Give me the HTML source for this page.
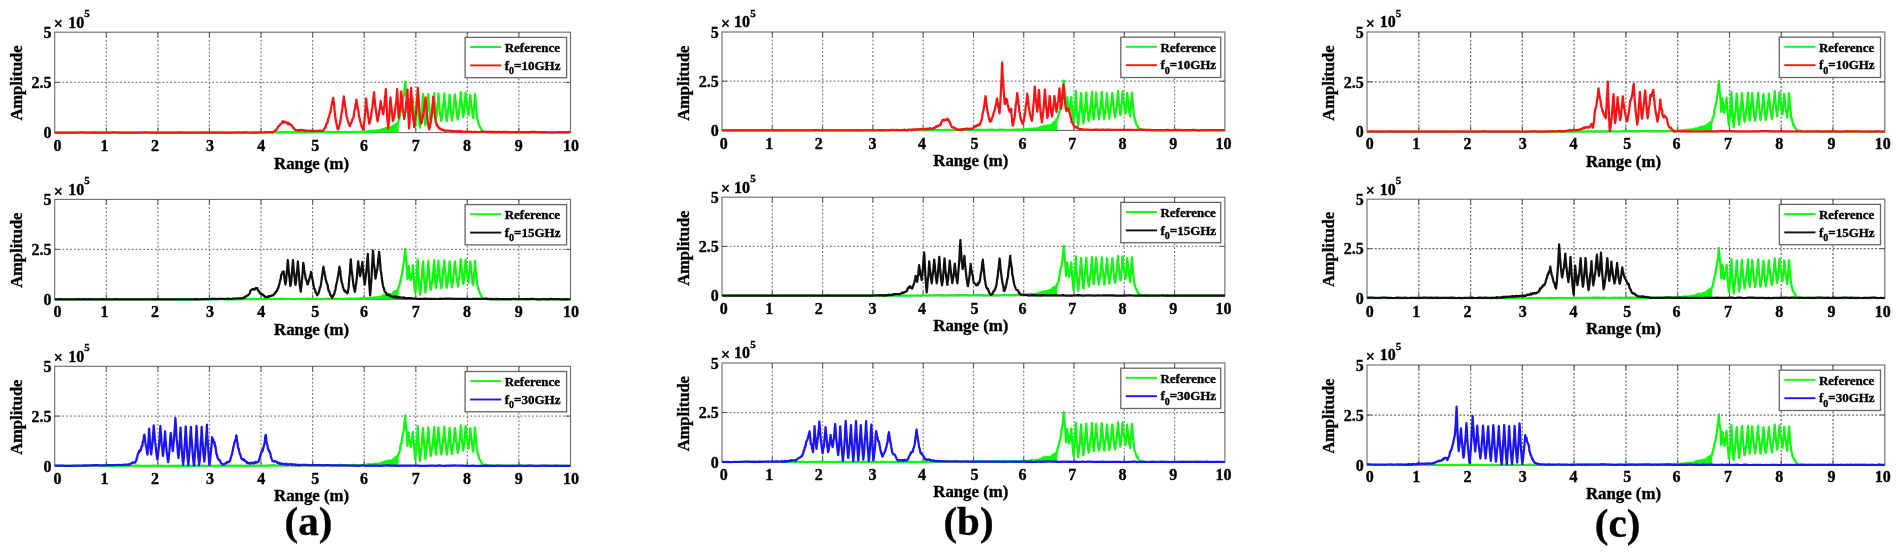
<!DOCTYPE html>
<html lang="en"><head><meta charset="utf-8"><title>Range profiles</title>
<style>
html,body{margin:0;padding:0;background:#fff;}
body{width:1900px;height:556px;overflow:hidden;}
svg{display:block;filter:blur(0.7px);}
text{stroke:#000;stroke-width:0.35px;}
</style></head><body>
<svg width="1900" height="556" viewBox="0 0 1900 556" font-family="'Liberation Serif', serif" font-weight="bold" fill="#000">
<rect width="1900" height="556" fill="#fff"/>
<g><clipPath id="c1"><rect x="53.7" y="32.2" width="517.8" height="101.9"/></clipPath>
<path d="M106.3,32.2 V132.6 M157.9,32.2 V132.6 M209.4,32.2 V132.6 M261.0,32.2 V132.6 M312.6,32.2 V132.6 M364.2,32.2 V132.6 M415.8,32.2 V132.6 M467.3,32.2 V132.6 M518.9,32.2 V132.6 M54.7,82.4 H570.5" stroke="#808080" stroke-width="1.25" stroke-dasharray="1.8 2.05" fill="none"/>
<rect x="54.7" y="32.2" width="515.8" height="100.4" fill="none" stroke="#707070" stroke-width="1.15"/>
<path d="M106.3,32.2v5M106.3,132.6v-5M157.9,32.2v5M157.9,132.6v-5M209.4,32.2v5M209.4,132.6v-5M261.0,32.2v5M261.0,132.6v-5M312.6,32.2v5M312.6,132.6v-5M364.2,32.2v5M364.2,132.6v-5M415.8,32.2v5M415.8,132.6v-5M467.3,32.2v5M467.3,132.6v-5M518.9,32.2v5M518.9,132.6v-5M54.7,82.4h5M570.5,82.4h-5" stroke="#555" stroke-width="1" fill="none"/>
<g clip-path="url(#c1)" fill="none" stroke-width="2.25" stroke-linejoin="round">
<path d="M276.5,132.6 L276.5,132.0 L312.6,131.8 L346.6,131.5 L364.2,131.0 L376.0,130.2 L384.8,129.0 L390.0,127.8 L395.1,125.8 L397.7,122.6 L398.5,122.6 L398.7,132.6 Z" fill="#10f810" stroke="none"/>
<path d="M54.7,132.6l2.6,0l2.6,0l2.5,0l2.6-0.1l2.6,0.1l2.6,0l2.6,0l2.5,0l2.6,0l2.6,0l2.6-0.3l2.5,0.3l2.6,0l2.6-0.1l2.6,0.1l2.6,0l2.5-0.1l2.6,0.1l2.6,0l2.6,0l2.6,0l2.5-0.2l2.6,0l2.6-0.1l2.6,0.3l2.6,0l2.5,0l2.6-0.1l2.6,0.1l2.6-0.1l2.5,0.1l2.6,0l2.6-0.2l2.6,0.2l2.6-0.2l2.5,0.2l2.6-0.1l2.6,0.1l2.6,0l2.6-0.1l2.5,0l2.6,0.1l2.6-0.1l2.6,0.1l2.6-0.1l2.5,0.1l2.6,0l2.6-0.1l2.6,0.1l2.5,0l2.6,0l2.6,0l2.6,0l2.6-0.1l2.5,0.1l2.6-0.2l2.6-0.1l2.6,0.1l2.6,0.2l2.5,0l2.6-0.1l2.6,0l2.6-0.2l2.6,0.2l2.5-0.1l2.6,0.2l2.6-0.1l2.6,0.1l2.6,0l2.5-0.1l2.6,0.1l2.6,0l2.6-0.2l2.5-0.1l2.6,0.2l2.6,0.1l2.6-0.2l2.6,0l2.5,0l2.6,0.1l2.6-0.1l2.6-0.2l2.6,0.2l2.5-0.2l2.6-0.1l2.6,0l2.5,0.2l2.5-0.1l2.5,0l2.5,0.1l2.5-0.1l2.5,0.1l2.5-0.2l2.5,0.2l2.5-0.1l2.5,0l2.6-0.1l2.5,0.3l2.5-0.4l2.5,0.1l2.5,0l2.5-0.2l2.5,0.2l2.5-0.1l2.5,0l2.5-0.1l2.5,0l2.5,0l2.5,0.1l2.5,0.1l2.5-0.1l2.5,0.1l2.5-0.1l2.5,0l2.5,0.2l2.6-0.2l2.5,0l2.5,0l2.5,0l2.5-0.2l2.5-0.1l0.4,0.4l0.5-0.1l0.4,0l0.5,0l0.5-0.4l0.4,0.3l0.5-0.5l0.4,0.8l0.5-0.2l0.4-0.7l0.5,0.2l0.5,0.4l0.4-1.1l0.5,0.3l0.4,0l0.5,0.7l0.4-1l0.5,0.2l0.4,0l0.5,0l0.5,0.4l0.4-0.2l0.5-0.5l0.4-0.1l0.5,0l0.4,0.2l0.5,0l0.5-0.2l0.4-0.5l0.5,0.6l0.5,0.3l0.4-0.6l0.5,0.1l0.5,0.1l0.4,0l0.5-0.8l0.4,0.3l0.5-0.3l0.5,0.1l0.4-0.8l0.5,0.3l0.5-0.1l0.4,0.2l0.5-0.2l0.5-1l0.4,0.6l0.5-0.8l0.5,0l0.4,0l0.5-0.1l0.4,0l0.5-0.5l0.5,0.3l0.4,0.6l0.5-0.5l0.5-0.3l0.4,0.6l0.5-0.6l0.4-0.1l0.5-0.7l0.4,0.5l0.5-1.3l0.5,0.7l0.4-0.9l0.5,0.2l0.4-1l0.5,0l0.4,0.2l0.5-1.3l0.4,0.5l0.5-1.1l0.5,1.7l0.4-1.6l0.4-0.8l0.4-2.5l0.5-0.8l0.4-1.1l0.4-1.6l0.4-1.8l0.4-3.3l0.5-1.6l0.4-0.3l0.5-3.4l0.5-3.2l0.4-2.3l0.5-2.9l0.4-2.8l0.3,0l0.4-5.8l0.4-4.9l0.3-2.6l0.4,5.7l0.4,5.4l0.4,3.6l0.4,2.4l0.3,8.5l0.4,5.1l0.4-3.4l0.5-5.2l0.4-4.6l0.4,6.2l0.5,2.3l0.5,2.9l0.4,3.2l0.5-2.3l0.4-3.1l0.5-2.6l0.5-3.2l0.4-3.9l0.5,7.8l0.5,6.5l0.4,3.9l0.5,5.5l0.4,4.1l0.4-3l0.5-4.7l0.4-6.6l0.4-5.7l0.4-7.6l0.4-6.2l0.4,9.5l0.5,6.5l0.4,8.5l0.4,5.8l0.5,4.6l0.4-3.7l0.5-2.6l0.4-3.4l0.5-5.3l0.4-3l0.4-9.5l0.5-5.9l0.4,6.5l0.4,7.2l0.4,5.7l0.4,4.1l0.4,3.8l0.4,3.8l0.4-3.7l0.4-4.2l0.4-3l0.4-5.4l0.5-1.2l0.4-6.8l0.4-7.2l0.4,7.2l0.4,5l0.4,4.6l0.4,4.1l0.4,4.6l0.4,3.6l0.5-2.1l0.4-3.2l0.4-3.7l0.5-2l0.4-4.8l0.4-4.2l0.5-4.3l0.4-5.3l0.4,9.4l0.5,7.1l0.4,5.7l0.4,5.6l0.4-3.9l0.4-3.1l0.4-3.2l0.4-6.3l0.4-2.8l0.5-8.1l0.4,3.5l0.4,7.5l0.4,4l0.4,5.4l0.5,1.6l0.4,3.1l0.4,2.3l0.4-2.9l0.4-2.7l0.5-4.9l0.4-3.7l0.4-3.1l0.5-6l0.4-4.4l0.4,7.6l0.4,4.9l0.4,1.9l0.4,7.1l0.4,3.7l0.4,2.6l0.4-2.6l0.4-3.7l0.4-4l0.5-2.4l0.4-3.9l0.4-4.3l0.4-5.7l0.5,7.4l0.4,5.5l0.5,4.5l0.4,4l0.5,4.5l0.4-2.2l0.5-3.8l0.4-1.6l0.4-6.3l0.5-3.4l0.4-5.6l0.5-3.2l0.4,6l0.4,1.3l0.4,6l0.4,4.4l0.5,4.2l0.4,2.6l0.4,0.6l0.4-3l0.4-2.2l0.5-5.7l0.4-2.2l0.4-5.1l0.4-3l0.4-6.2l0.4,6.5l0.4,3.1l0.4,4.9l0.4,4l0.4,3.3l0.4,3.2l0.4-3.2l0.4-0.3l0.4-7.3l0.4-4.4l0.4-5.1l0.4-4.2l0.4,5.1l0.4,4.4l0.4,1.4l0.5,5l0.4,1.2l0.4,3.2l0.4,2.5l0.5-4.1l0.4-6.1l0.4-4.5l0.5-6.1l0.4,4.3l0.4,4.5l0.5,3.3l0.4,3.8l0.4,2.3l0.4,3.8l0.5,1.7l0.4-5.5l0.4-5.3l0.5-6.2l0.4-7.5l0.4,4.2l0.4,4.8l0.4,4.7l0.4,6.2l0.4,2.9l0.4,1.8l0.5,2l0.4,2.5l0.5,1.9l0.5,0.6l0.4,1.3l0.5,0.6l0.4,0.5l0.4,1l0.5,0.6l0.4,0.8l0.5,1.1l0.4,0.2l2.1,0l2,0.5l2.1,0.3l2.1,0.2l2.5,0l2.6-0.3l2.6,0.1l2.5,0l2.6-0.1l2.5,0.2l2.6,0.2l2.6-0.2l2.5-0.1l2.6,0.3l2.6,0l2.5-0.3l2.6,0.1l2.5,0l2.6,0.2l2.6-0.2l2.5,0.1l2.6-0.1l2.6,0.2l2.5,0l2.6,0l2.5,0l2.6,0l2.6,0l2.5,0l2.6,0l2.6-0.1l2.5,0.1l2.6,0l2.5,0l2.6-0.1" stroke="#10f810"/>
<path d="M54.7,132.5l2.6,0l2.6,0.1l2.5,0l2.6,0l2.6,0l2.6,0l2.6,0l2.5-0.1l2.6,0l2.6-0.2l2.6,0.2l2.5,0l2.6,0.1l2.6,0l2.6-0.2l2.6,0.2l2.5-0.1l2.6,0.1l2.6-0.1l2.6,0.1l2.6,0l2.5-0.1l2.6-0.2l2.6,0.3l2.6,0l2.6,0l2.5,0l2.6,0l2.6,0l2.6-0.1l2.5,0.1l2.6,0l2.6,0l2.6-0.1l2.6-0.1l2.5,0.1l2.6,0.1l2.6,0l2.6-0.1l2.6,0l2.5,0.1l2.6,0l2.6,0l2.6,0l2.6,0l2.5,0l2.6,0l2.6,0l2.6-0.2l2.5,0.2l2.6,0l2.6-0.1l2.6,0.1l2.6,0l2.5,0l2.6-0.1l2.6,0.1l2.6,0l2.6,0l2.5-0.2l2.6,0.2l2.6,0l2.6,0l2.6,0l2.5,0l2.6,0l2.6,0l2.6,0l2.6,0l2.5-0.1l2.6-0.1l2.6,0.2l2.6,0l2.5-0.2l2.6,0.1l2.6,0.1l2.4-0.1l2.3,0.1l2.4,0l2.3-0.2l2.4,0.1l2.3-0.2l2.4-0.1l2.3,0l2.4-0.1l0.4,0.4l0.5-0.4l0.4-0.3l0.5-0.3l0.5-0.3l0.4-0.1l0.5-0.4l0.4-0.1l0.5-0.7l0.5-0.4l0.4-0.3l0.5-0.9l0.4-1.1l0.5-0.8l0.5-0.1l0.4-0.4l0.5-0.7l0.4-0.8l0.5-0.4l0.5-0.4l0.4-0.1l0.5-0.4l0.4-1.7l0.5,0.4l0.5,0.8l0.4-1.1l0.5,0.8l0.4-0.6l0.5,0.5l0.5-0.3l0.4,0.7l0.5,0.1l0.4-0.1l0.5,0.2l0.5,1.5l0.4-1.4l0.5,0.9l0.4,0.6l0.5-0.3l0.4-0.2l0.5,0.7l0.4,0.7l0.5-0.1l0.4,1l0.5,0.7l0.4,0.3l0.5,1.2l0.4-0.4l0.5,0.8l0.4,0.8l0.5,0.3l0.4,0.2l0.5,0l0.5,0l0.4,0.3l0.5,0.1l0.4-0.6l0.5,0.7l0.4-0.1l0.5-0.5l0.5,0.7l0.4-0.5l0.5-0.1l0.4-0.4l0.5,0.3l0.5,0.4l0.4,0.3l0.5-0.6l0.4,0.1l0.5-0.1l0.4,0.1l0.5,0.4l0.5,0.1l0.4,0.3l0.5-0.4l0.4,0l0.5,0.3l0.5-0.1l0.4-0.2l0.5-0.1l0.4,0.6l0.5-0.1l0.4,0.2l0.5,0l0.5-0.4l0.4-0.1l0.5,0.4l0.4-0.1l0.5,0.1l0.4-0.5l0.5,0.5l0.4,0l0.5,0.1l0.4-0.4l0.5,0.3l0.4,0.3l0.5-0.5l0.4,0l0.5,0.1l0.4-0.1l0.5-0.1l0.4,0l0.5-0.2l0.4,0.1l0.5-0.1l0.4,0.1l0.5,0l0.4,0.1l0.5,0l0.4,0.3l0.5-0.6l0.4,0l0.5-0.2l0.4-0.3l0.5-1.1l0.4-0.5l0.5-1.3l0.4,0.1l0.5-2.4l0.4-1.1l0.5-0.7l0.4,0.2l0.4-2.4l0.5-2.6l0.4-0.6l0.5-0.8l0.4-2.6l0.5-1.6l0.4-0.7l0.5-3l0.4-3l0.5-2.1l0.4-2.3l0.5-1.6l0.4-2l0.5,4.9l0.5,2.7l0.4,5.4l0.5,3.6l0.5,4.8l0.4,1.5l0.5,3.2l0.4,1.6l0.5,2.7l0.5,1.3l0.4-0.9l0.5-1.1l0.4-1.6l0.5-2l0.5-1.9l0.4-2.6l0.5-3.8l0.4-1.9l0.5-3.1l0.4-2.3l0.5-6l0.4-1.5l0.5-4.6l0.5,3.4l0.4,3.2l0.5,4.5l0.4,0.9l0.5,5.5l0.4,2.4l0.5,1.1l0.5,2.2l0.4,1.7l0.5,1.1l0.4,1.8l0.5,0.4l0.4,1.7l0.5-1.1l0.4-1.6l0.5-0.1l0.4-1.4l0.5-1.7l0.4-0.7l0.5-1.3l0.4,0l0.5-3.3l0.4-3.6l0.5-1.3l0.4-1.6l0.4-3.7l0.5-2.5l0.4-2.7l0.5,3.4l0.4,2.4l0.5,4l0.4,0.4l0.5,3.7l0.4,3.2l0.5,1.5l0.4,2.4l0.5,1.7l0.4,2l0.5,1.4l0.4,1.3l0.5,1l0.4,0.7l0.4,1l0.5-2.7l0.4-3.8l0.5-3.1l0.4-5.1l0.5-5.2l0.4-5.4l0.4-5.9l0.5,7.4l0.4,1.8l0.5,3.8l0.4,4.5l0.5,2l0.4,3.4l0.4,2.3l0.5-1.1l0.4-1.8l0.4-1.5l0.4-2.2l0.4-3.6l0.5-3.6l0.4-1.3l0.4-3.4l0.4-5.9l0.5-2.3l0.4-4.9l0.4,5.5l0.5,4.3l0.4,4.2l0.5,3.6l0.4,2.7l0.5,3.5l0.4,2.6l0.5,2.9l0.4-2.4l0.5-3.7l0.4-0.2l0.5-4.7l0.4-1.2l0.4-3.8l0.5-4.4l0.4,4.4l0.4,1.2l0.5,3l0.4,0.2l0.4,3.9l0.5,0.7l0.4-5l0.4-1.6l0.5-4.2l0.4-6.4l0.4-2.3l0.4-5.7l0.5,10.2l0.5,8.7l0.4,8l0.5,6.4l0.5,6l0.4-5.1l0.5-4.8l0.5-6.1l0.4-8.8l0.5-6.2l0.4,5.5l0.4,2.7l0.5,5.2l0.4,3.7l0.4,4l0.5,2.4l0.4-2.1l0.5-1.3l0.4-2.4l0.5-3.3l0.5-4.2l0.4-3.5l0.5-2.5l0.4-6.5l0.5-6.2l0.4,8.6l0.4,8.2l0.4,8.2l0.3,3.8l0.5-3.5l0.4-1.9l0.4-5.2l0.5-4.1l0.4-6l0.4-5.7l0.4,6.1l0.4,3.4l0.4,5l0.4,4.5l0.4,2.5l0.4,2.6l0.5,3.5l0.4-1.6l0.4-4l0.4-1.7l0.4-4.5l0.4-4.8l0.5-2.9l0.4-4.9l0.4-4.9l0.4,11.9l0.4,11.8l0.4,8.8l0.4,6.2l0.4-4.5l0.4-9.4l0.4-8.5l0.4-7.8l0.4-10.3l0.5,8.1l0.4,6.2l0.4,6.8l0.5,4.3l0.4,6.4l0.5,3.5l0.4,4l0.5-2.2l0.4-4.8l0.5-4l0.4-4.1l0.5-4.9l0.4-6.1l0.5-6.1l0.4-7.1l0.5,6.5l0.4,6.2l0.4,6.1l0.5,5.4l0.4,4.7l0.5,3.8l0.4,3l0.4-0.2l0.5-1.4l0.4-2.5l0.4-1.1l0.4-3.5l0.5-1.5l0.4-2.7l0.4-4l0.4-3.2l0.4-2.4l0.5-3.8l0.4,4.6l0.5,7.3l0.4,4.9l0.5,3.4l0.4,4.4l0.5,2.9l0.4,2.2l0.5,2.4l0.4-1.6l0.5-2.5l0.4-2.2l0.5-4.4l0.5-3.1l0.4-3.1l0.5-5.3l0.4-5.2l0.5-5.4l0.4,4.3l0.5,5.9l0.4,6.6l0.4,2.7l0.4,2.7l0.5,3.9l0.4,0.6l0.5,2.2l0.4-0.7l0.5,1.9l0.4,0l0.5,1.1l0.4-0.4l0.5,1.2l0.4-0.2l0.5,0.9l0.4-0.5l0.5,0.6l0.4,0.5l0.4-0.4l0.5,0.3l0.4-0.2l0.5,0.4l0.4,0.5l0.5-0.1l0.4,0.1l0.4,0.5l0.5-0.3l0.4,0.1l0.5-0.2l0.5,0l0.4,0l0.5,0.1l0.4,0l0.5,0l0.5-0.1l0.4,0.4l0.5,0l0.4-0.3l0.5,0.2l0.5-0.1l0.4,0.3l0.5,0.2l0.5-0.1l0.4,0.1l0.5-0.1l0.4-0.1l0.5,0.4l0.5,0l0.4-0.2l0.5,0l0.4-0.2l0.5,0.3l0.5,0.3l0.4-0.6l0.5,0.4l0.4-0.2l0.5,0.2l0.5,0.2l0.4-0.9l0.5,1l0.4-0.3l0.5,0.1l0.5,0.1l0.4-0.2l0.5,0.1l0.5,0.1l0.4,0l0.5,0.1l0.4,0.2l0.5,0.1l0.5-0.4l0.4,0.2l0.5-0.3l0.4,0.3l2.6-0.3l2.6,0.4l2.6-0.2l2.6,0.2l2.5-0.1l2.6-0.3l2.6,0.2l2.6,0l2.6,0.1l2.5,0l2.6,0.2l2.6-0.2l2.6,0.1l2.5-0.2l2.6,0.1l2.6,0.1l2.6,0l2.6,0l2.5,0.1l2.6-0.3l2.6,0.3l2.6-0.1l2.6,0.2l2.5-0.1l2.6-0.2l2.6-0.1l2.6,0.2l2.6,0.1l2.5-0.1l2.6,0.1l2.6,0.1l2.6,0.1l2.5,0.1l2.6-0.1l2.6-0.1l2.6,0l2.6,0.2l2.5-0.2l2.6,0l2.6-0.2" stroke="#f81414"/>
</g>
<text x="57.5" y="150.8" font-size="16" text-anchor="middle" >0</text>
<text x="104.4" y="150.8" font-size="16" text-anchor="middle" >1</text>
<text x="155.0" y="150.8" font-size="16" text-anchor="middle" >2</text>
<text x="210.1" y="150.8" font-size="16" text-anchor="middle" >3</text>
<text x="261.2" y="150.8" font-size="16" text-anchor="middle" >4</text>
<text x="315.3" y="150.8" font-size="16" text-anchor="middle" >5</text>
<text x="364.0" y="150.8" font-size="16" text-anchor="middle" >6</text>
<text x="415.8" y="150.8" font-size="16" text-anchor="middle" >7</text>
<text x="467.1" y="150.8" font-size="16" text-anchor="middle" >8</text>
<text x="518.7" y="150.8" font-size="16" text-anchor="middle" >9</text>
<text x="571.0" y="150.8" font-size="16" text-anchor="middle" >10</text>
<text x="51.4" y="37.9" font-size="16" text-anchor="end" >5</text>
<text x="51.4" y="88.1" font-size="16" text-anchor="end" >2.5</text>
<text x="51.4" y="138.3" font-size="16" text-anchor="end" >0</text>
<text x="53.8" y="29.3" font-size="16">× <tspan x="68.2" y="27.6">10</tspan><tspan x="84.2" y="17.1" font-size="11">5</tspan></text>
<text transform="translate(21.7,83.0) rotate(-90)" font-size="16.5" text-anchor="middle">Amplitude</text>
<text x="311.6" y="168.5" font-size="16.8" text-anchor="middle" >Range (m)</text>
<rect x="465.1" y="37.4" width="101.5" height="40.3" fill="#fff" stroke="#666" stroke-width="1.3"/>
<path d="M470.1,47.0 H501.3" stroke="#10f810" stroke-width="1.9"/>
<path d="M470.1,65.4 H501.3" stroke="#f81414" stroke-width="1.9"/>
<text x="504.7" y="51.7" font-size="13" text-anchor="start" >Reference</text>
<text x="504.7" y="69.5" font-size="13">f<tspan font-size="10" dy="4.5">0</tspan><tspan dy="-4.5">=10GHz</tspan></text></g>
<g><clipPath id="c2"><rect x="53.7" y="199.4" width="517.8" height="101.5"/></clipPath>
<path d="M106.3,199.4 V299.4 M157.9,199.4 V299.4 M209.4,199.4 V299.4 M261.0,199.4 V299.4 M312.6,199.4 V299.4 M364.2,199.4 V299.4 M415.8,199.4 V299.4 M467.3,199.4 V299.4 M518.9,199.4 V299.4 M54.7,249.4 H570.5" stroke="#808080" stroke-width="1.25" stroke-dasharray="1.8 2.05" fill="none"/>
<rect x="54.7" y="199.4" width="515.8" height="100.0" fill="none" stroke="#707070" stroke-width="1.15"/>
<path d="M106.3,199.4v5M106.3,299.4v-5M157.9,199.4v5M157.9,299.4v-5M209.4,199.4v5M209.4,299.4v-5M261.0,199.4v5M261.0,299.4v-5M312.6,199.4v5M312.6,299.4v-5M364.2,199.4v5M364.2,299.4v-5M415.8,199.4v5M415.8,299.4v-5M467.3,199.4v5M467.3,299.4v-5M518.9,199.4v5M518.9,299.4v-5M54.7,249.4h5M570.5,249.4h-5" stroke="#555" stroke-width="1" fill="none"/>
<g clip-path="url(#c2)" fill="none" stroke-width="2.25" stroke-linejoin="round">
<path d="M276.5,299.4 L276.5,298.8 L312.6,298.6 L346.6,298.3 L364.2,297.8 L376.0,297.0 L384.8,295.8 L390.0,294.6 L395.1,292.6 L397.7,289.4 L398.5,289.4 L398.7,299.4 Z" fill="#10f810" stroke="none"/>
<path d="M54.7,299.4l2.6,0l2.6-0.1l2.5,0.1l2.6,0l2.6,0l2.6-0.1l2.6,0l2.5,0.1l2.6,0l2.6-0.1l2.6,0l2.5-0.1l2.6,0.1l2.6,0.1l2.6,0l2.6-0.3l2.5,0.3l2.6,0l2.6,0l2.6,0l2.6,0l2.5,0l2.6,0l2.6-0.1l2.6,0l2.6-0.1l2.5,0.1l2.6,0.1l2.6-0.1l2.6,0.1l2.5,0l2.6,0l2.6,0l2.6,0l2.6-0.1l2.5-0.3l2.6,0.4l2.6-0.2l2.6,0.2l2.6,0l2.5-0.1l2.6,0.1l2.6-0.1l2.6,0l2.6,0.1l2.5-0.1l2.6,0.1l2.6-0.3l2.6,0.3l2.5-0.2l2.6,0.1l2.6-0.1l2.6,0.2l2.6-0.2l2.5,0.1l2.6-0.1l2.6,0l2.6,0.1l2.6,0.1l2.5-0.2l2.6,0.1l2.6-0.2l2.6,0.3l2.6-0.2l2.5,0l2.6,0.1l2.6,0l2.6,0l2.6,0.1l2.5,0l2.6-0.1l2.6-0.1l2.6-0.1l2.5,0.1l2.6,0l2.6,0l2.6,0l2.6,0l2.5-0.1l2.6-0.1l2.6,0.2l2.6,0l2.6-0.4l2.5,0.2l2.6-0.1l2.6,0l2.5,0.2l2.5-0.4l2.5,0.1l2.5,0.2l2.5-0.1l2.5,0.1l2.5,0.1l2.5-0.1l2.5-0.1l2.5-0.1l2.6,0l2.5,0.1l2.5-0.2l2.5,0.3l2.5-0.2l2.5-0.1l2.5,0.2l2.5,0.2l2.5-0.1l2.5-0.2l2.5,0l2.5-0.2l2.5,0.3l2.5-0.1l2.5-0.1l2.5,0.1l2.5,0.3l2.5-0.4l2.5-0.2l2.6,0.1l2.5,0.2l2.5-0.1l2.5-0.1l2.5-0.3l2.5,0.2l0.4,0.1l0.5-0.4l0.4,0.4l0.5-0.5l0.5,0.6l0.4-0.1l0.5-0.3l0.4-0.3l0.5,0.2l0.4,0l0.5,0.5l0.5-0.4l0.4,0l0.5-0.1l0.4-0.4l0.5,0.2l0.4-0.3l0.5,0.1l0.4,0.1l0.5-0.2l0.5-0.1l0.4-0.2l0.5,0.4l0.4-0.1l0.5,0.3l0.4-0.6l0.5-0.2l0.5,0.4l0.4,0.1l0.5,0.1l0.5-0.5l0.4,0l0.5-0.7l0.5,0.4l0.4,0.2l0.5,0.4l0.4-1.3l0.5,0.2l0.5,0.4l0.4-0.7l0.5,0.4l0.5-1.8l0.4,0.6l0.5,0l0.5,0.2l0.4,0.5l0.5-0.8l0.5,0.4l0.4-0.9l0.5,0.9l0.4-0.5l0.5-0.9l0.5-0.3l0.4,1.1l0.5,0.1l0.5-0.7l0.4-0.3l0.5,0.6l0.4-0.2l0.5-0.3l0.4,0l0.5-0.6l0.5-1.2l0.4-0.1l0.5-1.1l0.4,0.7l0.5-0.4l0.4,0.2l0.5-0.8l0.4,0.4l0.5,0.1l0.5-1.5l0.4,0.2l0.4-1.3l0.4-1.6l0.5-0.8l0.4-0.8l0.4-2.5l0.4-1.5l0.4-1.4l0.5-3.3l0.4-0.4l0.5-3.6l0.5-2.6l0.4-2.1l0.5-3.7l0.4-2.3l0.3-3.2l0.4-3.8l0.4-1.6l0.3-4.7l0.4,4.5l0.4,6l0.4,2l0.4,4.5l0.3,6.9l0.4,6.4l0.4-1.2l0.5-7.3l0.4-4.7l0.4,5.2l0.5,3.5l0.5,2.2l0.4,3.3l0.5-3.1l0.4,0.1l0.5-4.1l0.5-1.6l0.4-6.2l0.5,6.6l0.5,7.6l0.4,4.6l0.5,5l0.4,4.1l0.4-3.4l0.5-4.6l0.4-5.2l0.4-8.4l0.4-5.9l0.4-6.2l0.4,8.7l0.5,8l0.4,6.9l0.4,6.5l0.5,4.9l0.4-2.4l0.5-3.9l0.4-6l0.5-3.9l0.4-4.8l0.4-5.6l0.5-6.6l0.4,6.3l0.4,6.9l0.4,4.6l0.4,4.9l0.4,4.9l0.4,3.3l0.4-2.5l0.4-3.3l0.4-5.6l0.4-1.3l0.5-7.1l0.4-5.1l0.4-6.5l0.4,6l0.4,4.6l0.4,6.2l0.4,4.7l0.4,4.4l0.4,3l0.5-2.8l0.4-1.8l0.4-2.3l0.5-3.2l0.4-4.1l0.4-4.1l0.5-7.2l0.4-4.1l0.4,9l0.5,5.7l0.4,8.5l0.4,4.5l0.4-3.7l0.4-1.8l0.4-4.1l0.4-5.5l0.4-7.1l0.5-5.1l0.4,6.6l0.4,2.5l0.4,5.7l0.4,3.9l0.5,3.6l0.4,2.8l0.4,2.5l0.4-2l0.4-2.8l0.5-5.1l0.4-5.6l0.4-5.1l0.5-1.7l0.4-5.5l0.4,6.2l0.4,5.9l0.4,2l0.4,5.8l0.4,5l0.4,2.6l0.4-2.8l0.4-1.2l0.4-4.3l0.5-4.1l0.4-4.5l0.4-4.7l0.4-4.9l0.5,6.5l0.4,6.6l0.5,5.5l0.4,2.4l0.5,5l0.4-2.7l0.5-1.2l0.4-4.5l0.4-4.7l0.5-2l0.4-7l0.5-3.9l0.4,4.4l0.4,4.8l0.4,3.7l0.4,2.6l0.5,4.7l0.4,1.2l0.4,3.7l0.4-1.9l0.4-4.5l0.5-1.8l0.4-4.6l0.4-5.6l0.4-5.1l0.4-3.8l0.4,4.7l0.4,3.4l0.4,5.1l0.4,5.4l0.4,3.8l0.4,2.4l0.4-1.8l0.4-4.2l0.4-3.9l0.4-4.4l0.4-6l0.4-4.1l0.4,5.8l0.4,1.4l0.4,5.7l0.5,2.6l0.4,2.6l0.4,2.7l0.4,1.9l0.5-3.7l0.4-7.3l0.4-2.7l0.5-7.2l0.4,3.4l0.4,4.6l0.5,3.7l0.4,3.3l0.4,5.8l0.4,1.5l0.5,1.5l0.4-5l0.4-6.5l0.5-5.7l0.4-7.2l0.4,5.2l0.4,5l0.4,3.8l0.4,3.4l0.4,4.4l0.4,2.7l0.5,2.6l0.4,0.6l0.5,1.6l0.5,1.6l0.4,1.6l0.5,0l0.4,1l0.4,0.7l0.5,1.7l0.4,0.6l0.5,0.9l0.4-0.1l2.1,0.3l2,0.3l2.1,0.3l2.1,0l2.5,0.3l2.6,0l2.6-0.2l2.5,0.2l2.6-0.1l2.5,0.1l2.6-0.1l2.6,0.2l2.5-0.2l2.6,0.1l2.6,0.1l2.5-0.4l2.6,0.2l2.5-0.3l2.6,0.3l2.6,0.1l2.5,0l2.6-0.2l2.6,0.2l2.5,0l2.6,0l2.5,0.1l2.6,0l2.6,0l2.5,0l2.6-0.1l2.6,0l2.5,0.1l2.6,0l2.5,0l2.6-0.1" stroke="#10f810"/>
<path d="M54.7,299.4l2.6,0l2.6-0.3l2.5,0.3l2.6,0l2.6,0l2.6,0l2.6-0.1l2.5,0.1l2.6-0.2l2.6,0.1l2.6-0.2l2.5,0.2l2.6,0.1l2.6-0.2l2.6,0.1l2.6,0.1l2.5-0.1l2.6,0.1l2.6-0.2l2.6,0.2l2.6,0l2.5,0l2.6,0l2.6-0.2l2.6,0.1l2.6,0.1l2.5,0l2.6-0.1l2.6,0.1l2.6,0l2.5-0.1l2.6,0.1l2.6-0.1l2.6,0l2.6,0.1l2.5,0l2.6,0l2.6-0.2l2.6,0.2l2.6-0.2l2.5,0.2l2.6,0l2.6,0l2.6,0l2.6,0l2.5-0.1l2.6,0l2.6,0.1l2.6,0l2.5,0l2.5,0l2.5,0l2.5,0l2.4,0l2.5-0.3l2.5,0.2l2.4,0.1l2.5-0.3l2.5,0l2.5-0.1l2.4,0l2.5-0.3l2.5,0.3l2.4-0.1l2.5,0l2.5,0l2.4,0.1l2.5-0.3l2.5,0.3l2.4-0.3l2.3-0.2l2.4-0.1l2.4,0l2.4-0.3l0.4,0.2l0.4-0.4l0.5,0l0.4-0.8l0.4,0.3l0.5-0.4l0.4-0.5l0.4,0.2l0.5-0.6l0.4-0.3l0.5-0.3l0.4,0l0.4-0.3l0.5-0.6l0.4-0.4l0.5-0.3l0.5-1.3l0.4-1.7l0.5-0.8l0.4-0.3l0.5,0l0.5-0.5l0.4-0.4l0.5,0.3l0.4-0.1l0.5,0.5l0.4-0.1l0.5-0.3l0.5-1l0.4-0.1l0.5,0.2l0.4,0.2l0.5-0.5l0.5,2l0.4,0.4l0.5,1.3l0.5-0.6l0.4,1.8l0.5,0l0.5,0.7l0.4,0.5l0.4-0.3l0.5,0.3l0.4,0.2l0.4,0.4l0.5,0.2l0.4,0.4l0.4,0.8l0.5-0.1l0.4,0.8l0.4,0.3l0.4-0.1l0.5,0.1l0.4,0.1l0.5,0l0.4-0.6l0.4-0.1l0.5,0.3l0.4-0.7l0.4,0.2l0.5,0.1l0.4,0l0.4-0.6l0.5,0.1l0.4-0.2l0.5-0.3l0.4,0l0.5,0l0.4-0.1l0.5-0.8l0.5-0.5l0.4-0.7l0.5,0.2l0.5-1.5l0.4,0.2l0.5-0.9l0.5-0.3l0.4-1.6l0.5-0.9l0.5-0.7l0.4-2.1l0.5-1.3l0.4-2l0.5-2.4l0.5-0.7l0.4-4.5l0.5-0.5l0.4-0.1l0.4-2.2l0.5,1.2l0.4,0.7l0.4-2.5l0.5,4.9l0.4,2.8l0.5,3.5l0.4,2l0.5-2.7l0.4-5l0.5-5.6l0.5-5.2l0.4-6.1l0.5,5.2l0.4,5.1l0.4,4.7l0.5,3.7l0.4,4.2l0.4,3.1l0.5-2.4l0.4-2.8l0.4-5.4l0.4-4.8l0.5-5.3l0.4-5.2l0.4,5.8l0.5,6.2l0.4,3l0.4,3.2l0.4,5l0.5,1.5l0.4-2.6l0.5-6.8l0.5-3.8l0.4-3.6l0.5-6.5l0.4,5.6l0.4,5l0.4,4.8l0.4,5.5l0.4,3.5l0.4,2.1l0.4,3.6l0.5-4l0.4-3.4l0.4-4.7l0.5-5l0.4-5.1l0.4-6.5l0.5,2.9l0.4,4.1l0.5,2.8l0.4,1.4l0.5,4.6l0.5,0.6l0.4,1.6l0.5,1.3l0.4,2.2l0.5-0.1l0.4-2.4l0.5-0.3l0.4-2.5l0.5-1.1l0.4-2.5l0.5-0.7l0.5-2.8l0.4,2.2l0.4,2.6l0.5,2.1l0.4,1.6l0.5,4.2l0.4,1.1l0.4,2.8l0.5,0.3l0.4,1l0.5,2l0.4,0.7l0.5,0.6l0.4,1.4l0.4,0.7l0.5-1l0.4-0.4l0.5-0.9l0.4-1.7l0.5-1.3l0.4-2.5l0.4-0.2l0.5-2.1l0.4-2.3l0.5-4.3l0.4-2.3l0.4-3l0.5-3l0.4-3.6l0.5,3.3l0.5,1.7l0.4,2.8l0.5,1.9l0.4,2.5l0.5,2l0.5,2l0.4,0.5l0.5,1.8l0.4,2.3l0.5,3.2l0.5,0.1l0.4,1l0.5,1.5l0.5,1.8l0.4,0.5l0.5,0l0.4,1.5l0.5,0.7l0.5-0.8l0.4-1.3l0.5-0.7l0.4-0.8l0.5-0.8l0.4-2.6l0.5-0.7l0.4-3.3l0.5-2.3l0.4-1.6l0.5-2.1l0.4-2.4l0.5-2.6l0.4-2.4l0.5-2.8l0.4-3.9l0.4,1.9l0.5,2.9l0.4,4.4l0.4,2.2l0.4,3.2l0.5,1.8l0.4,1.1l0.4,2l0.4,1.4l0.4,1.5l0.5,1.2l0.4,0.5l0.5-0.4l0.4,1.6l0.5-0.5l0.4,0.4l0.5,0.4l0.4,1.2l0.5-0.8l0.4-2.3l0.5-2.8l0.4-5.7l0.4-4.8l0.5-3.9l0.4-7.6l0.5-6.2l0.4,5.4l0.5,5.9l0.4,2.6l0.5,4.7l0.5,3.8l0.4,3.8l0.5,2.3l0.4,2l0.5,1.9l0.4-2l0.4-4.1l0.5-2.2l0.4-3.6l0.4-3.7l0.4-5.5l0.4-4.9l0.4-4.4l0.5,5.1l0.5,2.9l0.4,3.2l0.5,3.6l0.4-2.5l0.5-2.6l0.4-3.2l0.5-2.6l0.5-3.4l0.4,5.6l0.5,5.6l0.5,4.2l0.4,2.8l0.5,4.4l0.4-2.8l0.5-3.8l0.4-4l0.5-4.3l0.4-4.2l0.4-5.4l0.5-6.1l0.5,10.4l0.4,7.6l0.5,10.7l0.4,6l0.5,6.9l0.4-4.2l0.4-6l0.4-4.1l0.4-6.8l0.4-8.6l0.4-6.5l0.4-8.8l0.5,3.9l0.4,8.5l0.4,3l0.5,3.8l0.4,5.6l0.4,3.3l0.5-2.7l0.4-2.2l0.5-3.5l0.4-0.7l0.5-4.7l0.4-4.9l0.5-3.9l0.4-4.2l0.5,4.6l0.4,4.8l0.4,5.5l0.4,4.5l0.4,1.4l0.4,3.8l0.4,2.9l0.4,2.7l0.5,3.5l0.4,1.6l0.4,0.6l0.5,2.2l0.4,1.3l0.5,0.9l0.4,0.2l0.5,0.3l0.4,1l0.5,1.2l0.4-0.2l0.5,0.3l0.4-0.4l0.5,0.4l0.4,0.3l0.5,0.4l0.4-0.3l0.5,1.1l0.4-0.1l0.4,0.4l0.5-0.4l0.4,0.1l0.5,0.3l0.4,0l0.5,0.3l0.4,0.4l0.5-0.4l0.4-0.5l0.5,0.7l0.4-0.4l0.5,0.7l0.4-0.5l0.5-0.2l0.4,0.3l0.5,0.6l0.4-0.4l0.5,0.3l0.4-0.4l0.5,0.2l0.5,0.2l0.4-0.1l0.5,0.4l0.4-0.1l0.5-0.2l0.4,0.1l0.5-0.2l0.4,0.3l0.5-0.4l0.4,0.8l0.5-0.1l0.4-0.1l0.5,0.4l0.4-0.3l0.5,0.2l0.4-0.1l0.5,0l0.4-0.1l2.4,0l2.4,0.3l2.3,0.1l2.4,0.4l2.4,0l2.5,0l2.6-0.2l2.5,0.1l2.6,0.1l2.6-0.1l2.5,0l2.6,0.2l2.5-0.3l2.6,0.1l2.5-0.1l2.6,0l2.5-0.1l2.6,0.2l2.5,0.1l2.6,0l2.5,0l2.6-0.1l2.5,0.1l2.6,0l2.5,0.1l2.6-0.1l2.5-0.1l2.6,0l2.6,0.1l2.5-0.1l2.6,0l2.5,0.3l2.6-0.2l2.5,0.2l2.6-0.2l2.5,0.2l2.6,0l2.5,0.1l2.6-0.1l2.5-0.1l2.6,0l2.5-0.1l2.6,0.2l2.5-0.1l2.6,0l2.6,0l2.5,0l2.6,0.2l2.5-0.3l2.6,0.1l2.5,0.4l2.6,0l2.5-0.3l2.6,0l2.5,0.2l2.6-0.4l2.5,0.3l2.6-0.1l2.5-0.1l2.6,0.3l2.5,0.1l2.6-0.2l2.5,0.1l2.6-0.2" stroke="#101010"/>
</g>
<text x="57.5" y="317.4" font-size="16" text-anchor="middle" >0</text>
<text x="104.4" y="317.4" font-size="16" text-anchor="middle" >1</text>
<text x="155.0" y="317.4" font-size="16" text-anchor="middle" >2</text>
<text x="210.1" y="317.4" font-size="16" text-anchor="middle" >3</text>
<text x="261.2" y="317.4" font-size="16" text-anchor="middle" >4</text>
<text x="315.3" y="317.4" font-size="16" text-anchor="middle" >5</text>
<text x="364.0" y="317.4" font-size="16" text-anchor="middle" >6</text>
<text x="415.8" y="317.4" font-size="16" text-anchor="middle" >7</text>
<text x="467.1" y="317.4" font-size="16" text-anchor="middle" >8</text>
<text x="518.7" y="317.4" font-size="16" text-anchor="middle" >9</text>
<text x="571.0" y="317.4" font-size="16" text-anchor="middle" >10</text>
<text x="51.4" y="205.1" font-size="16" text-anchor="end" >5</text>
<text x="51.4" y="255.1" font-size="16" text-anchor="end" >2.5</text>
<text x="51.4" y="305.1" font-size="16" text-anchor="end" >0</text>
<text x="53.8" y="196.5" font-size="16">× <tspan x="68.2" y="194.8">10</tspan><tspan x="84.2" y="184.3" font-size="11">5</tspan></text>
<text transform="translate(21.7,250.2) rotate(-90)" font-size="16.5" text-anchor="middle">Amplitude</text>
<text x="311.6" y="334.5" font-size="16.8" text-anchor="middle" >Range (m)</text>
<rect x="465.1" y="204.6" width="101.5" height="40.3" fill="#fff" stroke="#666" stroke-width="1.3"/>
<path d="M470.1,214.2 H501.3" stroke="#10f810" stroke-width="1.9"/>
<path d="M470.1,232.6 H501.3" stroke="#101010" stroke-width="1.9"/>
<text x="504.7" y="218.9" font-size="13" text-anchor="start" >Reference</text>
<text x="504.7" y="236.7" font-size="13">f<tspan font-size="10" dy="4.5">0</tspan><tspan dy="-4.5">=15GHz</tspan></text></g>
<g><clipPath id="c3"><rect x="53.7" y="366.3" width="517.8" height="101.0"/></clipPath>
<path d="M106.3,366.3 V465.8 M157.9,366.3 V465.8 M209.4,366.3 V465.8 M261.0,366.3 V465.8 M312.6,366.3 V465.8 M364.2,366.3 V465.8 M415.8,366.3 V465.8 M467.3,366.3 V465.8 M518.9,366.3 V465.8 M54.7,416.1 H570.5" stroke="#808080" stroke-width="1.25" stroke-dasharray="1.8 2.05" fill="none"/>
<rect x="54.7" y="366.3" width="515.8" height="99.5" fill="none" stroke="#707070" stroke-width="1.15"/>
<path d="M106.3,366.3v5M106.3,465.8v-5M157.9,366.3v5M157.9,465.8v-5M209.4,366.3v5M209.4,465.8v-5M261.0,366.3v5M261.0,465.8v-5M312.6,366.3v5M312.6,465.8v-5M364.2,366.3v5M364.2,465.8v-5M415.8,366.3v5M415.8,465.8v-5M467.3,366.3v5M467.3,465.8v-5M518.9,366.3v5M518.9,465.8v-5M54.7,416.1h5M570.5,416.1h-5" stroke="#555" stroke-width="1" fill="none"/>
<g clip-path="url(#c3)" fill="none" stroke-width="2.25" stroke-linejoin="round">
<path d="M276.5,465.8 L276.5,465.2 L312.6,465.0 L346.6,464.7 L364.2,464.2 L376.0,463.4 L384.8,462.2 L390.0,461.0 L395.1,459.0 L397.7,455.9 L398.5,455.9 L398.7,465.8 Z" fill="#10f810" stroke="none"/>
<path d="M54.7,465.8l2.6,0l2.6,0l2.5,0l2.6-0.1l2.6,0.1l2.6,0l2.6-0.2l2.5,0.2l2.6,0l2.6,0l2.6,0l2.5-0.1l2.6,0l2.6,0l2.6-0.1l2.6,0l2.5,0.1l2.6-0.1l2.6,0.1l2.6,0.1l2.6-0.1l2.5,0.1l2.6,0l2.6-0.3l2.6,0.2l2.6,0.1l2.5,0l2.6-0.3l2.6,0.3l2.6-0.1l2.5,0l2.6,0l2.6,0l2.6,0.1l2.6,0l2.5,0l2.6,0l2.6-0.2l2.6,0l2.6,0.2l2.5-0.1l2.6,0.1l2.6,0l2.6,0l2.6-0.1l2.5,0.1l2.6,0l2.6-0.2l2.6,0.2l2.5,0l2.6-0.2l2.6,0.2l2.6,0l2.6-0.1l2.5,0l2.6,0.1l2.6-0.2l2.6,0.1l2.6,0.1l2.5-0.3l2.6,0.2l2.6,0.1l2.6-0.2l2.6,0.1l2.5-0.1l2.6,0.2l2.6-0.2l2.6,0l2.6,0l2.5,0l2.6-0.1l2.6,0.1l2.6,0.1l2.5,0.1l2.6-0.2l2.6,0l2.6,0.1l2.6-0.1l2.5-0.1l2.6,0.3l2.6-0.3l2.6,0.3l2.6-0.4l2.5-0.1l2.6-0.1l2.6,0.3l2.5-0.2l2.5,0.1l2.5,0.3l2.5-0.4l2.5,0.1l2.5,0l2.5,0.1l2.5-0.1l2.5-0.1l2.5-0.1l2.6,0.1l2.5-0.4l2.5,0.5l2.5-0.1l2.5,0l2.5,0.1l2.5-0.3l2.5,0.1l2.5,0.2l2.5-0.2l2.5-0.1l2.5,0.3l2.5-0.2l2.5,0l2.5-0.3l2.5,0.2l2.5,0.1l2.5,0.1l2.5-0.3l2.6,0.2l2.5-0.4l2.5,0.5l2.5-0.2l2.5-0.1l2.5,0.1l0.4-0.1l0.5-0.2l0.4,0.3l0.5,0.2l0.5-0.7l0.4-0.1l0.5,0.5l0.4-0.3l0.5,0.7l0.4-1l0.5,0.5l0.5-0.2l0.4-0.8l0.5,0.9l0.4-0.4l0.5,0.2l0.4,0.2l0.5-0.3l0.4-0.4l0.5,0.4l0.5-0.3l0.4-0.3l0.5,0.2l0.4,0.3l0.5-0.8l0.4,0.4l0.5-0.4l0.5,0.7l0.4-0.8l0.5,0.7l0.5,0.1l0.4-0.5l0.5-0.1l0.5-0.3l0.4,0.1l0.5-0.4l0.4-0.4l0.5,0.5l0.5,0.1l0.4-0.5l0.5-0.6l0.5-0.1l0.4,0.2l0.5,0.1l0.5-0.5l0.4-0.5l0.5,0.5l0.5-0.9l0.4,0.3l0.5-0.1l0.4,0.3l0.5-0.9l0.5,0.5l0.4,0.5l0.5-0.9l0.5,0.4l0.4-0.6l0.5,0.3l0.4,0.1l0.5-0.5l0.4,0l0.5-0.2l0.5-0.7l0.4-0.8l0.5,0l0.4-0.3l0.5-0.1l0.4-0.9l0.5-0.2l0.4-0.6l0.5,0.2l0.5-1.1l0.4,1.3l0.4-1.2l0.4-1.6l0.5-1.7l0.4,0.2l0.4-1.9l0.4-3l0.4-3.2l0.5-1.4l0.4-0.1l0.5-3.8l0.5-3.4l0.4-1.5l0.5-2.9l0.4-1.7l0.3-2.2l0.4-5.7l0.4-2.2l0.3-4.2l0.4,6.2l0.4,3.8l0.4,4.8l0.4,2.4l0.3,7.7l0.4,5.5l0.4-3.9l0.5-4.1l0.4-5.5l0.4,4.7l0.5,3.5l0.5,3.4l0.4,3l0.5-3.5l0.4-0.9l0.5-1.9l0.5-6.2l0.4-2.6l0.5,7.7l0.5,4.7l0.4,5.8l0.5,5.3l0.4,4.6l0.4-4.3l0.5-3.8l0.4-5.5l0.4-5.9l0.4-6.3l0.4-8.1l0.4,9.8l0.5,6.4l0.4,7.4l0.4,6.6l0.5,4.7l0.4-3.4l0.5-4.1l0.4-3.2l0.5-6.7l0.4-4.1l0.4-6.4l0.5-5l0.4,7.5l0.4,3.6l0.4,6.9l0.4,4.2l0.4,3.9l0.4,4.6l0.4-3.4l0.4-4.7l0.4-3.3l0.4-3.8l0.5-5.4l0.4-4.9l0.4-6l0.4,5l0.4,7.1l0.4,4.2l0.4,4.9l0.4,3.8l0.4,3.8l0.5-1.3l0.4-4.3l0.4-2.9l0.5-1.6l0.4-4.7l0.4-3.2l0.5-5.9l0.4-5.4l0.4,9.8l0.5,7l0.4,6.5l0.4,4.4l0.4-2.7l0.4-3.4l0.4-5.8l0.4-4l0.4-4.6l0.5-6.7l0.4,5.8l0.4,3.2l0.4,6.5l0.4,1.2l0.5,5.2l0.4,3.4l0.4,1.8l0.4-1.5l0.4-3.2l0.5-4.7l0.4-3.2l0.4-5.3l0.5-4.6l0.4-5.1l0.4,5.8l0.4,4.7l0.4,5.6l0.4,3.3l0.4,4.2l0.4,4.3l0.4-1.5l0.4-5.7l0.4-1.5l0.5-4.4l0.4-3.9l0.4-5l0.4-5l0.5,7.6l0.4,5l0.5,5.2l0.4,5.5l0.5,3l0.4-2.3l0.5-3.1l0.4-3.7l0.4-1.3l0.5-4.6l0.4-7.7l0.5-3.3l0.4,3.9l0.4,5.5l0.4,4.3l0.4,0.7l0.5,6.4l0.4,2.4l0.4,1.6l0.4-2.6l0.4-1.5l0.5-5.1l0.4-4.5l0.4-2.1l0.4-5.7l0.4-5.8l0.4,3.5l0.4,9l0.4,2.8l0.4,3.2l0.4,4.4l0.4,2.2l0.4-2.6l0.4-4.3l0.4-2.3l0.4-6.2l0.4-4.6l0.4-4.5l0.4,2.8l0.4,6l0.4,3.1l0.5,2.1l0.4,2.6l0.4,2.9l0.4,3.1l0.5-3.4l0.4-4l0.4-6.4l0.5-6.8l0.4,4.9l0.4,4l0.5,2.6l0.4,3.3l0.4,3.9l0.4,3.6l0.5,1.3l0.4-4.9l0.4-6.2l0.5-5.8l0.4-7.5l0.4,5.9l0.4,3.4l0.4,4.2l0.4,4.9l0.4,3.7l0.4,2.1l0.5,2.9l0.4,0.7l0.5,2.2l0.5,1.5l0.4,1.1l0.5,0.3l0.4,0.6l0.4,0.2l0.5,1.3l0.4,1.4l0.5,0.5l0.4,0.3l2.1,0.3l2,0.1l2.1,0.5l2.1,0.1l2.5,0.2l2.6,0l2.6,0l2.5,0l2.6-0.2l2.5,0.2l2.6-0.2l2.6,0.2l2.5,0l2.6-0.1l2.6,0.1l2.5,0.1l2.6-0.1l2.5-0.2l2.6,0.2l2.6,0.1l2.5,0l2.6,0l2.6,0l2.5,0l2.6,0l2.5-0.1l2.6-0.1l2.6,0.2l2.5,0l2.6-0.2l2.6,0.1l2.5,0.1l2.6-0.1l2.5,0.1l2.6,0" stroke="#10f810"/>
<path d="M54.7,465.7l2.5,0l2.5,0l2.5-0.1l2.5,0.2l2.5,0l2.6,0l2.5,0l2.5-0.3l2.5,0l2.5,0.1l2.5,0l2.5-0.3l2.5,0.3l2.5-0.2l2.5-0.1l2.5-0.1l2.5-0.1l2.6,0.2l2.5,0.1l2.5-0.1l2.5-0.1l2.5,0l2.6-0.2l2.5,0l2.6-0.2l2.6,0.2l2.6-0.2l2.6-0.2l2.5,0l0.5,0.1l0.4-0.5l0.5,0.5l0.4-0.5l0.5,0l0.4-0.5l0.5-0.3l0.4,0l0.5-0.5l0.4-0.4l0.5,0.3l0.4-0.1l0.5-0.1l0.4-0.2l0.4-0.1l0.5,0.3l0.4-1.4l0.4-0.2l0.5-0.7l0.4-2.5l0.4-0.6l0.5-2.4l0.4-1.7l0.4,0.2l0.4-0.8l0.5-2.2l0.4,0.8l0.4,0.1l0.5-1.1l0.4-1l0.4-2.8l0.4-0.1l0.4,0l0.5-4.5l0.4-1.1l0.4-1.3l0.4-3.8l0.4-0.8l0.5,3.2l0.4,4.7l0.5,2.6l0.4,1.6l0.5,3.2l0.4,2.8l0.4,1.8l0.4-5.2l0.4-5.9l0.4-7.5l0.4-7.3l0.4,5.9l0.4,6.5l0.4,4.8l0.4,5.2l0.5,3.3l0.4-3.7l0.4-4.1l0.4-3.6l0.5-6.2l0.4-5.2l0.4-6.3l0.5,5.9l0.4,5l0.5,6l0.4,2.7l0.5,5.1l0.4,3.1l0.5,3.4l0.4,2.9l0.5-2.3l0.4-4.9l0.5-3.5l0.4-4.7l0.5-6.2l0.4-5.7l0.4-6.1l0.5,7.3l0.4,3.7l0.4,8.4l0.5,2l0.4,5.3l0.4,3.1l0.4-3.5l0.4-4.6l0.5-5.9l0.4-3.7l0.4-6.7l0.4,6.4l0.5,6.9l0.4,3.5l0.4,4.4l0.5,3.1l0.4,3.9l0.5,2.6l0.4-2.8l0.4-4.9l0.5-4.2l0.4-6.2l0.4-6.8l0.5-4.4l0.4,3.9l0.4,5.6l0.4,3.3l0.4,1.2l0.4,4.2l0.4-3.9l0.5-5.2l0.4-5.6l0.4-4.5l0.5-6.8l0.4-7.1l0.4,6.6l0.5,8.1l0.4,6.7l0.5,4.4l0.4,5.4l0.4,5.5l0.5,3.3l0.4-4.3l0.4-5.5l0.4-4.5l0.4-8.5l0.5-7.6l0.4,9.2l0.4,6.2l0.4,7.3l0.5,5.5l0.4,5.1l0.4,4l0.5-4.7l0.4-4.4l0.4-7.6l0.5-5.7l0.4-8.9l0.4-7.3l0.4,7.3l0.5,7.8l0.4,8l0.4,6.1l0.5,5l0.4,4.7l0.4-4.9l0.5-6.3l0.4-4.9l0.4-8.3l0.4-6.1l0.5-7.8l0.4,8.4l0.5,5.8l0.4,5.8l0.4,6.2l0.5,5.1l0.4,4l0.5,3.5l0.4-4.9l0.4-5l0.5-7.3l0.4-6.1l0.4-7.5l0.4-9.1l0.5,8.2l0.4,7.8l0.4,7.1l0.5,7.9l0.4,3.4l0.4,4.8l0.5-3.4l0.4-4.8l0.4-7.1l0.4-8l0.5-6.8l0.4-8l0.4,8.3l0.5,6.9l0.4,4.9l0.4,6.7l0.5,3.4l0.4,4.6l0.4-4.2l0.4-4.8l0.5-7.7l0.4-5.1l0.4-5.7l0.5-9.5l0.4,10.4l0.4,5.4l0.5,8.8l0.4,5.5l0.4,5.5l0.4,4.8l0.5-2.7l0.4-4.7l0.4-3.8l0.5-5.2l0.4-3.5l0.4-8.1l0.4,1l0.5,1l0.4,0.6l0.4,2.1l0.5,1.5l0.4-0.9l0.4,4.3l0.5-0.6l0.5,4.8l0.4,3.3l0.5,0.1l0.4,2.3l0.5,1.8l0.4,0.9l0.5,0.2l0.4,0.8l0.5-0.3l0.5,0.7l0.4,1.2l0.5,1l0.5,0.5l0.4,0.4l0.5,0.6l0.5,0.2l0.4-0.1l0.4,0.2l0.5-0.6l0.4-0.4l0.5-0.1l0.4-0.3l0.4-0.2l0.5,0.2l0.4-1.1l0.5-0.2l0.4,0.4l0.5-0.4l0.4-0.4l0.4,0.2l0.5-0.3l0.4-0.8l0.4-0.8l0.4-1.8l0.5-1.6l0.4-1.4l0.4-1l0.4-2.2l0.4-1.3l0.5-3.4l0.4-1.3l0.4-1l0.4-2.9l0.5-0.5l0.4-1.6l0.4-1.4l0.5-3.1l0.4,1.5l0.4,5l0.4,0.5l0.4,4.2l0.4,1.7l0.4,0.2l0.4,2.5l0.4,1.6l0.4,1.5l0.4,0.4l0.4,1.6l0.4,1.6l0.4,0.9l0.4,0.6l0.5,0.3l0.4-0.4l0.5,0l0.4,0.4l0.5,1l0.4-0.5l0.5,0.9l0.4-0.1l0.5,0.7l0.4,0.6l0.5,0.9l0.5-0.8l0.4,1l0.5-0.1l0.4,0l0.5,0.1l0.4,0.4l0.5-0.7l0.4,0.6l0.5-0.2l0.4-0.7l0.5,0.5l0.5-0.1l0.4,0.3l0.5-0.5l0.4,0.6l0.5-0.9l0.5-0.2l0.4,0.1l0.5,0.3l0.4-1l0.5,0.6l0.5,0.1l0.4-0.2l0.4,0.1l0.5-0.6l0.4-0.6l0.4-1.4l0.5-0.8l0.4-2.5l0.4-1l0.4-1.5l0.5-1.5l0.4-0.4l0.4-2.2l0.5,1.2l0.4-1.8l0.5-2.1l0.4-1.2l0.4-1.7l0.5-2.5l0.4-4.8l0.5-2.1l0.4,2.7l0.4,4.9l0.5,1.4l0.4,1.4l0.5,2.5l0.4,1.7l0.5,1.6l0.4-0.5l0.5,1.7l0.4,0.8l0.5,1.8l0.4,2.3l0.5,1.4l0.5,1.2l0.4,1.3l0.5,0l0.4,0.3l0.5,0.3l0.4-0.5l0.5,0.1l0.4-0.1l0.5,0.3l0.4,0.6l0.4,0.1l0.5-0.3l0.4,0.7l0.5,0.6l0.4,0.1l0.5-0.1l0.4-0.4l0.5,1l0.4-0.6l0.5,0.7l0.4,0l0.4,0.3l0.5-0.6l0.4,0.2l0.5,0.4l0.4-0.2l0.5,0.5l0.5-0.3l0.4-0.1l0.5,0.2l0.5-0.2l0.4,0.6l0.5-1l0.4,0.6l0.5,0.4l0.5-0.2l0.4,0.2l0.5-0.1l0.4-0.4l0.5,0.3l0.5-0.3l0.4,0.1l0.5-0.2l0.5,0.7l0.4,0.1l0.5-0.3l0.4-0.2l0.5,0.1l0.5,0.3l0.4-0.1l0.5-0.2l0.4,0.1l0.5,0.7l0.5-0.5l0.4,0l0.5,0.1l0.5,0.2l0.4,0.3l0.5-0.4l0.4-0.1l0.5,0l0.5,0.6l0.4-0.5l2.6,0l2.5,0l2.6,0.2l2.6-0.1l2.5,0.2l2.6-0.1l2.5,0l2.6,0l2.5,0.2l2.6-0.2l2.6-0.1l2.5,0.3l2.6,0l2.5,0.1l2.6,0l2.6,0.1l2.5,0l2.6-0.2l2.5,0.2l2.6,0.2l2.5,0l2.6-0.1l2.6,0.2l2.5-0.3l2.6,0l2.6,0.3l2.5-0.1l2.6,0l2.6,0l2.6-0.2l2.6,0.3l2.5-0.2l2.6-0.1l2.6-0.1l2.6,0.2l2.5,0l2.6-0.1l2.6,0.3l2.6-0.2l2.6-0.1l2.5,0.2l2.6-0.1l2.6-0.1l2.6,0.1l2.6-0.1l2.5,0.1l2.6,0.2l2.6,0l2.6,0l2.6-0.2l2.5,0l2.6,0.1l2.6,0.1l2.6-0.5l2.5,0.3l2.6,0.2l2.6-0.2l2.6,0.1l2.6-0.1l2.5-0.2l2.6,0.1l2.6,0.1l2.6,0.1l2.6,0l2.5,0.1l2.6,0l2.6-0.3l2.6,0.3l2.6,0l2.5,0l2.6,0l2.6-0.2l2.6,0.2l2.6-0.1l2.5,0.1l2.6,0l2.6-0.3l2.6,0.3l2.5,0l2.6,0l2.6,0l2.6,0l2.6,0l2.5,0l2.6-0.1l2.6-0.1l2.6,0.2l2.6,0l2.5-0.1l2.6-0.1l2.6,0.2l2.6,0l2.6,0l2.5-0.1l2.6-0.1l2.6,0.2l2.6,0l2.5,0l2.6-0.1l2.6,0.1l2.6,0l2.6,0l2.5,0l2.6,0l2.6,0" stroke="#1c14f8"/>
</g>
<text x="57.5" y="484.2" font-size="16" text-anchor="middle" >0</text>
<text x="104.4" y="484.2" font-size="16" text-anchor="middle" >1</text>
<text x="155.0" y="484.2" font-size="16" text-anchor="middle" >2</text>
<text x="210.1" y="484.2" font-size="16" text-anchor="middle" >3</text>
<text x="261.2" y="484.2" font-size="16" text-anchor="middle" >4</text>
<text x="315.3" y="484.2" font-size="16" text-anchor="middle" >5</text>
<text x="364.0" y="484.2" font-size="16" text-anchor="middle" >6</text>
<text x="415.8" y="484.2" font-size="16" text-anchor="middle" >7</text>
<text x="467.1" y="484.2" font-size="16" text-anchor="middle" >8</text>
<text x="518.7" y="484.2" font-size="16" text-anchor="middle" >9</text>
<text x="571.0" y="484.2" font-size="16" text-anchor="middle" >10</text>
<text x="51.4" y="372.0" font-size="16" text-anchor="end" >5</text>
<text x="51.4" y="421.8" font-size="16" text-anchor="end" >2.5</text>
<text x="51.4" y="471.5" font-size="16" text-anchor="end" >0</text>
<text x="53.8" y="363.4" font-size="16">× <tspan x="68.2" y="361.7">10</tspan><tspan x="84.2" y="351.2" font-size="11">5</tspan></text>
<text transform="translate(21.7,417.2) rotate(-90)" font-size="16.5" text-anchor="middle">Amplitude</text>
<text x="311.6" y="500.9" font-size="16.8" text-anchor="middle" >Range (m)</text>
<rect x="465.1" y="371.5" width="101.5" height="40.3" fill="#fff" stroke="#666" stroke-width="1.3"/>
<path d="M470.1,381.1 H501.3" stroke="#10f810" stroke-width="1.9"/>
<path d="M470.1,399.5 H501.3" stroke="#1c14f8" stroke-width="1.9"/>
<text x="504.7" y="385.8" font-size="13" text-anchor="start" >Reference</text>
<text x="504.7" y="403.6" font-size="13">f<tspan font-size="10" dy="4.5">0</tspan><tspan dy="-4.5">=30GHz</tspan></text></g>
<g><clipPath id="c4"><rect x="721.0" y="32.0" width="504.9" height="99.9"/></clipPath>
<path d="M772.3,32.0 V130.4 M822.6,32.0 V130.4 M872.9,32.0 V130.4 M923.2,32.0 V130.4 M973.5,32.0 V130.4 M1023.7,32.0 V130.4 M1074.0,32.0 V130.4 M1124.3,32.0 V130.4 M1174.6,32.0 V130.4 M722.0,81.2 H1224.9" stroke="#808080" stroke-width="1.25" stroke-dasharray="1.8 2.05" fill="none"/>
<rect x="722.0" y="32.0" width="502.9" height="98.4" fill="none" stroke="#707070" stroke-width="1.15"/>
<path d="M772.3,32.0v5M772.3,130.4v-5M822.6,32.0v5M822.6,130.4v-5M872.9,32.0v5M872.9,130.4v-5M923.2,32.0v5M923.2,130.4v-5M973.5,32.0v5M973.5,130.4v-5M1023.7,32.0v5M1023.7,130.4v-5M1074.0,32.0v5M1074.0,130.4v-5M1124.3,32.0v5M1124.3,130.4v-5M1174.6,32.0v5M1174.6,130.4v-5M722.0,81.2h5M1224.9,81.2h-5" stroke="#555" stroke-width="1" fill="none"/>
<g clip-path="url(#c4)" fill="none" stroke-width="2.25" stroke-linejoin="round">
<path d="M938.2,130.4 L938.2,129.8 L973.5,129.6 L1006.6,129.3 L1023.7,128.8 L1035.3,128.0 L1043.9,126.9 L1048.9,125.7 L1053.9,123.7 L1056.4,120.6 L1057.2,120.6 L1057.4,130.4 Z" fill="#10f810" stroke="none"/>
<path d="M722,130.4l2.5-0.2l2.5,0.2l2.5,0l2.6,0l2.5-0.1l2.5,0l2.5,0l2.5,0.1l2.5,0l2.5,0l2.6,0l2.5,0l2.5-0.1l2.5,0l2.5,0.1l2.5-0.1l2.5,0.1l2.6-0.2l2.5,0l2.5,0.1l2.5,0.1l2.5-0.1l2.5,0.1l2.5-0.2l2.6,0.2l2.5,0l2.5-0.3l2.5,0.3l2.5,0l2.5,0l2.5,0l2.6,0l2.5-0.1l2.5,0.1l2.5-0.1l2.5,0l2.5,0.1l2.6-0.2l2.5,0.2l2.5,0l2.5,0l2.5-0.2l2.5,0l2.5,0.2l2.6-0.1l2.5,0l2.5-0.1l2.5,0.1l2.5-0.1l2.5,0.2l2.5,0l2.6-0.2l2.5,0l2.5,0.1l2.5-0.1l2.5,0.1l2.5-0.1l2.5,0l2.6,0l2.5,0l2.5,0.1l2.5,0.1l2.5,0l2.5-0.2l2.5,0.1l2.6-0.1l2.5,0.2l2.5-0.1l2.5,0.1l2.5,0l2.5-0.2l2.5-0.1l2.6,0.3l2.5-0.2l2.5-0.1l2.5,0.3l2.5-0.2l2.5-0.1l2.5-0.1l2.6,0.4l2.5-0.1l2.5-0.2l2.5-0.2l2.5,0.3l2.5-0.1l2.5,0l2.5-0.2l2.4,0.2l2.5-0.2l2.4,0l2.5-0.1l2.4,0.1l2.4,0l2.5-0.1l2.4,0.1l2.5,0.2l2.4-0.1l2.5-0.2l2.4,0.1l2.4,0l2.5,0l2.4-0.4l2.5,0.4l2.4-0.1l2.5,0l2.4,0.1l2.4-0.2l2.5,0l2.4,0.1l2.5,0.2l2.4-0.4l2.5,0.1l2.4,0.1l2.4,0.3l2.5-0.3l2.4,0.1l2.5-0.2l2.4,0l2.5,0l2.4-0.2l2.4,0.1l0.5-0.3l0.4,0.5l0.5-0.2l0.4-0.4l0.5,0.2l0.4,0.2l0.5,0l0.4-0.1l0.4-0.2l0.5-0.2l0.4,0.1l0.5-0.2l0.4-0.1l0.5,0.1l0.4-0.4l0.5,0.1l0.4,0.2l0.4,0l0.5-0.1l0.4,0.1l0.5,0.2l0.4-0.5l0.5,0.2l0.4-0.3l0.5,0.3l0.4-0.2l0.5-0.1l0.4,0.2l0.5-0.2l0.4,0.2l0.5-0.2l0.4-0.4l0.5,0l0.4,0l0.5,0.1l0.4-0.6l0.5-0.5l0.4,1.2l0.5-1.2l0.4,0.1l0.5-0.5l0.4-0.1l0.5,0.6l0.5-1.2l0.4,0.7l0.5-0.2l0.4-0.5l0.5,0.2l0.4-0.3l0.5,0.2l0.4,0.1l0.5-0.4l0.4,0.3l0.5-1l0.4,0.4l0.5,0l0.4,0.6l0.5,0.2l0.4-0.1l0.5-1l0.4,0.2l0.4-1.1l0.5,0.5l0.4-0.4l0.5-1.2l0.4,0l0.5-0.9l0.4-0.4l0.5-0.1l0.4,0.7l0.4-0.4l0.5-1.9l0.4,1.4l0.4-1.3l0.4-1.2l0.5-1.2l0.4-1.5l0.4-1.4l0.4-2l0.4-0.6l0.4-4.5l0.4-1.4l0.5-0.9l0.5-4.2l0.4-2.8l0.5-2.1l0.3-2l0.4-4.8l0.3-2.2l0.4-3.4l0.4-3.6l0.3,5.5l0.4,4.6l0.4,2.1l0.4,4.8l0.3,7.8l0.4,5.3l0.4-3.4l0.4-3.1l0.4-6.8l0.5,4.7l0.4,1.9l0.5,4.6l0.4,3.3l0.5-3.9l0.4-0.8l0.5-2.3l0.4-4.2l0.5-3.4l0.4,6.3l0.5,7.3l0.4,5l0.5,5.2l0.4,3.4l0.4-4.1l0.4-5.3l0.4-6.1l0.4-4.5l0.4-6.2l0.4-7l0.4,9.6l0.5,7.4l0.4,5.7l0.4,7.3l0.5,4.7l0.4-3.1l0.4-4l0.4-5.2l0.5-2.7l0.4-5l0.4-6.8l0.5-6.1l0.4,6.2l0.3,6.6l0.4,4.6l0.4,5.5l0.4,3.1l0.4,4.3l0.4-3.3l0.4-2.8l0.4-3l0.4-5.7l0.4-4.9l0.4-6.5l0.5-4.8l0.3,6.2l0.4,5.5l0.4,6l0.4,3.5l0.4,3.9l0.4,3.6l0.4-1.5l0.5-4.4l0.4-1.2l0.4-5.9l0.5-3.4l0.4-4.6l0.4-2.3l0.4-6l0.4,10.1l0.4,6.2l0.4,7.4l0.4,3.9l0.4-3l0.4-5l0.5-4.4l0.4-3.3l0.4-5.2l0.4-5.9l0.4,6.1l0.4,5.3l0.4,2.6l0.4,3.1l0.4,4.6l0.4,2.1l0.4,3l0.4-2l0.5-3.4l0.4-4.8l0.4-2.5l0.4-5.6l0.4-3.7l0.4-5.4l0.4,7.7l0.4,3.8l0.4,5.3l0.4,2.5l0.4,4.3l0.4,3.9l0.4-3.4l0.4-2.8l0.4,0l0.4-5.6l0.4-5.4l0.4-2.7l0.4-6.4l0.5,5.9l0.4,6l0.4,4.9l0.5,4.4l0.4,4.4l0.5-4.4l0.4-1.4l0.4-4.9l0.5-1.3l0.4-4.9l0.4-4.3l0.5-4.5l0.4,4.3l0.4,4.3l0.4,3.4l0.4,4l0.4,3.4l0.4,2.4l0.4,2.6l0.4-2.5l0.4-3.5l0.4-3l0.5-1.8l0.4-5.3l0.4-4.7l0.4-5.8l0.4,5.7l0.4,5.9l0.3,2.3l0.4,4.6l0.4,1.8l0.4,4.1l0.4-1.7l0.4-4.3l0.4-4l0.3-3.6l0.4-4.9l0.4-5.3l0.4,4.7l0.4,2.9l0.4,4.1l0.4,1.7l0.5,6.1l0.4,1.2l0.4,1.4l0.4-5.3l0.4-4.5l0.5-5.1l0.4-5.7l0.4,3l0.4,4.9l0.4,4.7l0.5,2.9l0.4,3.8l0.4,2.2l0.4,2l0.4-4l0.5-6.2l0.4-5.8l0.4-7.8l0.4,6.3l0.4,2.6l0.4,4.9l0.4,2.9l0.3,4.3l0.4,2.8l0.5,1.9l0.4,2.2l0.5,0.6l0.4,1.7l0.5,1.6l0.4,0.7l0.5,0.5l0.4,0.7l0.4,0.7l0.4,1.3l0.5,0.7l0.4,0.2l2,0.1l2,0.4l2,0.5l2.1-0.1l2.5,0.1l2.4,0.1l2.5-0.1l2.5,0.2l2.5,0l2.5,0l2.5-0.2l2.5,0.2l2.5-0.2l2.5,0.2l2.5,0l2.5-0.1l2.5,0.1l2.5,0l2.5-0.3l2.5,0.2l2.5,0.1l2.5-0.2l2.5,0.2l2.5-0.2l2.5,0.2l2.5-0.2l2.5,0.2l2.5,0l2.5,0l2.5,0l2.5,0l2.5,0l2.5,0l2.5,0l2.5-0.1" stroke="#10f810"/>
<path d="M722,130.3l2.5,0.1l2.5,0l2.5,0l2.6,0l2.5,0l2.5,0l2.5,0l2.5,0l2.5-0.2l2.5,0.2l2.6,0l2.5-0.1l2.5,0.1l2.5,0l2.5,0l2.5,0l2.5-0.1l2.6,0l2.5,0l2.5,0.1l2.5-0.1l2.5,0.1l2.5,0l2.5,0l2.6-0.1l2.5,0.1l2.5,0l2.5,0l2.5-0.1l2.5,0.1l2.5,0l2.6,0l2.5,0l2.5,0l2.5-0.1l2.5,0l2.5-0.2l2.6,0.1l2.5,0.2l2.5,0l2.5,0l2.5,0l2.5-0.1l2.5,0l2.6,0l2.5,0.1l2.5-0.1l2.5,0.1l2.5,0l2.5-0.1l2.5,0.1l2.6-0.1l2.5,0l2.5-0.2l2.5,0.3l2.5,0l2.5,0l2.5,0l2.6,0l2.5,0l2.3,0l2.4,0l2.3-0.2l2.4,0.2l2.3-0.2l2.4-0.1l2.3,0l2.3-0.2l2.4,0.1l2.3-0.1l2.4,0.2l2.3,0.1l0.5-0.1l0.4-0.1l0.5-0.2l0.4,0.4l0.5-0.1l0.4,0l0.5-0.3l0.4,0.3l0.5-0.4l0.4,0.3l0.5,0.1l0.4,0l0.5,0.1l0.4,0.2l0.5-0.4l0.5,0l0.4-0.6l0.5,0.3l0.4-0.1l0.5,0.2l0.4,0l0.5,0.2l0.4,0l0.5-0.6l0.4,0.4l0.5-0.1l0.4-0.2l0.5,0.1l0.4,0l0.5-0.5l0.4,0.3l0.5,0.2l0.4-0.1l0.5,0.1l0.4-0.3l0.5-0.1l0.4,0.3l0.5-0.1l0.4,0.2l0.5-0.3l0.4-0.2l0.5,0.3l0.4-0.2l0.5,0.1l0.4-0.1l0.5-0.2l0.4,0.3l0.5-0.5l0.4,0l0.5,0l0.4,0.4l0.5,0.2l0.4-0.3l0.5-0.2l0.4,0l0.5,0.1l0.4-0.1l0.5,0.1l0.4-0.3l0.5,0.5l0.5-0.4l0.4-0.1l0.5,0.3l0.4-1l0.5,0.8l0.4,0l0.5,0.3l0.4-0.3l0.4-0.1l0.5-0.3l0.4,0.3l0.5-0.6l0.4,0.4l0.4-0.7l0.5,0.2l0.4-0.7l0.5-0.6l0.4,0.4l0.4-0.9l0.5-0.2l0.4,0.5l0.5-0.4l0.4-0.2l0.4-0.3l0.5-0.5l0.4,0.4l0.4-0.4l0.4-0.9l0.4,0.3l0.4-2.2l0.4-0.4l0.4-0.6l0.5-1.4l0.4,0.5l0.4-0.1l0.4-0.7l0.5,0.7l0.4-0.3l0.5,0.1l0.4-0.3l0.5-0.3l0.4-0.1l0.5,0.7l0.4-1.4l0.5,0.7l0.5,0.4l0.4-0.1l0.5,1.6l0.4,0.6l0.5,0.9l0.4,1.4l0.5,1.5l0.4,0.4l0.5,1l0.4,0.2l0.5,0.2l0.4-0.2l0.4,0.4l0.4-0.3l0.5,0.4l0.4,0.3l0.4,0.2l0.4,0.3l0.5,0.7l0.4-0.5l0.4,1l0.4-0.3l0.5,0.3l0.4-0.1l0.5,0l0.4,0.2l0.5-0.4l0.4,0l0.5,0l0.4,0.2l0.5-0.5l0.4,0.3l0.5-0.3l0.4,0.5l0.4-0.7l0.5,0.3l0.4-0.3l0.5,0.3l0.4-0.2l0.5-0.1l0.4,0.1l0.5-0.6l0.4,0.5l0.5,0l0.4-0.3l0.5,0.1l0.4,0.3l0.5-0.2l0.4-0.2l0.5,0.1l0.4-0.1l0.5,0.4l0.4-0.5l0.5,0.2l0.4-0.3l0.5-0.1l0.4-0.2l0.5-1.1l0.5,0.3l0.4-0.5l0.5-0.2l0.4-0.8l0.5,0.5l0.4,0l0.5-0.9l0.4,0.3l0.5-1.1l0.4,0.7l0.5-0.3l0.4-0.4l0.5,0.3l0.4-0.8l0.4-1.2l0.5-0.4l0.4-2l0.4-0.8l0.5-2.4l0.4-3.2l0.4-2.1l0.5-1.2l0.4-2.5l0.4-2.3l0.5-4.3l0.4-3.1l0.4-2.6l0.5,4.6l0.4,4l0.5,2.1l0.4,3l0.5,2.8l0.4,2.1l0.5,2.2l0.4,2.2l0.5,1.2l0.4,1.5l0.5-1l0.4-0.8l0.5,0.9l0.4-3l0.4,0l0.5-1.7l0.4-0.8l0.5-2.6l0.4-0.3l0.4-2l0.5-1l0.4-2.4l0.5-2.4l0.4-0.9l0.4-3l0.5-2.4l0.4,3.1l0.4,2.1l0.4,3.3l0.5,1.4l0.4,3.8l0.4,1.2l0.4-5.9l0.4-6.5l0.5-9l0.4-8.1l0.4-9.7l0.4-11.6l0.4,9.6l0.5,7.3l0.4,7.4l0.4,5.4l0.4,5.5l0.4,6.1l0.4,0.2l0.4-2.5l0.4-2.8l0.4,1.2l0.4-0.8l0.5,1.3l0.4,3.4l0.4,2.3l0.5,0.5l0.4,3.3l0.4-0.2l0.5,2.1l0.3-0.9l0.4-0.6l0.4-0.4l0.4-1.2l0.3,6.5l0.4,3.1l0.4,4.3l0.4,3l0.4-0.9l0.5-2.8l0.4-2.9l0.5-1.2l0.4-3.5l0.5-4.3l0.4-6.1l0.5-1.4l0.4-3.8l0.5-5.7l0.4,4.1l0.5,3.8l0.4,4.2l0.4,0.7l0.4,5.5l0.5,1.5l0.4,3.5l0.4,2.3l0.4,0.1l0.5,2.7l0.4,0.3l0.4,1.5l0.4,1l0.5-1.8l0.4-0.7l0.5-3.3l0.4-2.8l0.5-1.1l0.4-4.4l0.5-4.8l0.5-2.9l0.4-2.9l0.5-6l0.4,4.3l0.5,3.7l0.4,5l0.5,1.8l0.4,2.9l0.5,3.7l0.4,1l0.5,2.5l0.4,0.9l0.5,1.6l0.4-2.5l0.4-3.3l0.5-6.5l0.4-4.3l0.4-4.4l0.5-7.4l0.4-5.8l0.4,5.1l0.4,5.6l0.5,4.5l0.4,2.3l0.4,4.7l0.4,2.8l0.4-4.5l0.4-3.6l0.3-6.7l0.4-7l0.5,4l0.4,9.5l0.4,3.8l0.5,5.2l0.4,4.7l0.4,1.3l0.4,3.9l0.5-2.5l0.4-3.7l0.4-4.1l0.5-4.7l0.4-5.1l0.4-6.2l0.5-6.3l0.4,5.9l0.4,5l0.4,6.9l0.4,1.9l0.5,5.8l0.4,2.9l0.4-2.6l0.5-5l0.4-3.8l0.5-4l0.4-6.7l0.5,3.5l0.4,6.1l0.5,4.6l0.4,3.9l0.5,2.3l0.4-1.6l0.4-3.5l0.5-2.3l0.4-5.3l0.4-2.5l0.4-5.4l0.4,3.4l0.4,4.2l0.4,2.2l0.4,2.6l0.4,3.6l0.5-3.7l0.4-1.8l0.4-3.2l0.5-2.2l0.4-4l0.4-5l0.4-3.6l0.5,6.5l0.4,4.7l0.5,6.5l0.4,2.9l0.5-4.6l0.4-4.2l0.5-5.6l0.4-4.5l0.5-5.5l0.4,4.7l0.4,5.1l0.4,4.3l0.4,4.2l0.5,3.6l0.4,3.6l0.4,0.7l0.4-1.3l0.5,1.1l0.4-0.7l0.4-1.5l0.5,1.2l0.4-0.6l0.4,3.1l0.5,1.3l0.4,2l0.4,2.4l0.5,1.5l0.4,3.1l0.4,0.2l0.4-0.1l0.5,1.1l0.4,0.7l0.4,1.5l0.5,0.6l0.4,0.3l0.4,0.7l0.5-0.7l0.4,0.7l0.4,0.2l0.5-0.4l0.4,0.8l0.4-0.1l0.5,0.2l0.4,0.6l0.4,0.1l0.4,0.2l0.5,0.1l0.4,0.3l0.4-0.3l0.5,0.2l2.2,0.2l2.3,0.1l2.3,0.1l2.2,0.3l2.5-0.1l2.5-0.2l2.5,0.1l2.5,0.1l2.5-0.1l2.5,0.1l2.5-0.3l2.5,0.2l2.5,0.1l2.5,0.1l2.5,0l2.5-0.1l2.5,0.1l2.5,0l2.5,0l2.5,0l2.5,0l2.4,0.1l2.5,0l2.5-0.3l2.5,0.1l2.5,0.1l2.5,0l2.5,0l2.5,0.2l2.5-0.1l2.5,0.2l2.5-0.2l2.5,0.1l2.5,0l2.5-0.2l2.5,0.2l2.5,0l2.5-0.1l2.5,0l2.5-0.1l2.5,0.2l2.5-0.1l2.5,0.2l2.5,0l2.5-0.2l2.4,0l2.5,0.3l2.5,0l2.5-0.1l2.5-0.2l2.5,0.3l2.5-0.2l2.5-0.1l2.5,0.1l2.5,0.1l2.5,0l2.5-0.1l2.5,0.3" stroke="#f81414"/>
</g>
<text x="723.8" y="148.5" font-size="16" text-anchor="middle" >0</text>
<text x="769.2" y="148.5" font-size="16" text-anchor="middle" >1</text>
<text x="818.7" y="148.5" font-size="16" text-anchor="middle" >2</text>
<text x="872.5" y="148.5" font-size="16" text-anchor="middle" >3</text>
<text x="922.0" y="148.5" font-size="16" text-anchor="middle" >4</text>
<text x="974.6" y="148.5" font-size="16" text-anchor="middle" >5</text>
<text x="1022.5" y="148.5" font-size="16" text-anchor="middle" >6</text>
<text x="1072.2" y="148.5" font-size="16" text-anchor="middle" >7</text>
<text x="1122.6" y="148.5" font-size="16" text-anchor="middle" >8</text>
<text x="1173.3" y="148.5" font-size="16" text-anchor="middle" >9</text>
<text x="1223.5" y="148.5" font-size="16" text-anchor="middle" >10</text>
<text x="718.7" y="37.7" font-size="16" text-anchor="end" >5</text>
<text x="718.7" y="86.9" font-size="16" text-anchor="end" >2.5</text>
<text x="718.7" y="136.1" font-size="16" text-anchor="end" >0</text>
<text x="721.1" y="29.1" font-size="16">× <tspan x="733.9" y="27.4">10</tspan><tspan x="750.3" y="16.9" font-size="11">5</tspan></text>
<text transform="translate(689.0,83.2) rotate(-90)" font-size="16.5" text-anchor="middle">Amplitude</text>
<text x="970.8" y="165.8" font-size="16.8" text-anchor="middle" >Range (m)</text>
<rect x="1120.8" y="37.2" width="99.9" height="40.3" fill="#fff" stroke="#666" stroke-width="1.3"/>
<path d="M1125.8,46.8 H1157.0" stroke="#10f810" stroke-width="1.9"/>
<path d="M1125.8,65.2 H1157.0" stroke="#f81414" stroke-width="1.9"/>
<text x="1160.4" y="51.5" font-size="13" text-anchor="start" >Reference</text>
<text x="1160.4" y="69.3" font-size="13">f<tspan font-size="10" dy="4.5">0</tspan><tspan dy="-4.5">=10GHz</tspan></text></g>
<g><clipPath id="c5"><rect x="721.0" y="197.2" width="504.9" height="100.0"/></clipPath>
<path d="M772.3,197.2 V295.7 M822.6,197.2 V295.7 M872.9,197.2 V295.7 M923.2,197.2 V295.7 M973.5,197.2 V295.7 M1023.7,197.2 V295.7 M1074.0,197.2 V295.7 M1124.3,197.2 V295.7 M1174.6,197.2 V295.7 M722.0,246.4 H1224.9" stroke="#808080" stroke-width="1.25" stroke-dasharray="1.8 2.05" fill="none"/>
<rect x="722.0" y="197.2" width="502.9" height="98.5" fill="none" stroke="#707070" stroke-width="1.15"/>
<path d="M772.3,197.2v5M772.3,295.7v-5M822.6,197.2v5M822.6,295.7v-5M872.9,197.2v5M872.9,295.7v-5M923.2,197.2v5M923.2,295.7v-5M973.5,197.2v5M973.5,295.7v-5M1023.7,197.2v5M1023.7,295.7v-5M1074.0,197.2v5M1074.0,295.7v-5M1124.3,197.2v5M1124.3,295.7v-5M1174.6,197.2v5M1174.6,295.7v-5M722.0,246.4h5M1224.9,246.4h-5" stroke="#555" stroke-width="1" fill="none"/>
<g clip-path="url(#c5)" fill="none" stroke-width="2.25" stroke-linejoin="round">
<path d="M938.2,295.7 L938.2,295.1 L973.5,294.9 L1006.6,294.6 L1023.7,294.1 L1035.3,293.3 L1043.9,292.2 L1048.9,291.0 L1053.9,289.0 L1056.4,285.8 L1057.2,285.8 L1057.4,295.7 Z" fill="#10f810" stroke="none"/>
<path d="M722,295.6l2.5,0l2.5,0.1l2.5,0l2.6,0l2.5-0.1l2.5,0.1l2.5,0l2.5,0l2.5-0.2l2.5,0.2l2.6-0.1l2.5,0l2.5,0l2.5,0l2.5,0.1l2.5,0l2.5-0.2l2.6,0.2l2.5,0l2.5,0l2.5,0l2.5-0.1l2.5-0.1l2.5,0.1l2.6,0l2.5,0l2.5,0l2.5,0l2.5,0.1l2.5-0.2l2.5,0.2l2.6,0l2.5,0l2.5,0l2.5,0l2.5,0l2.5,0l2.6-0.1l2.5,0l2.5-0.1l2.5,0.2l2.5-0.1l2.5-0.1l2.5,0.1l2.6-0.2l2.5,0.3l2.5-0.1l2.5,0l2.5,0.1l2.5-0.1l2.5,0l2.6,0l2.5,0.1l2.5,0l2.5-0.1l2.5,0.1l2.5-0.1l2.5,0.1l2.6-0.1l2.5,0.1l2.5-0.1l2.5,0.1l2.5-0.1l2.5,0.1l2.5-0.1l2.6-0.2l2.5,0.3l2.5-0.2l2.5,0.1l2.5,0l2.5,0.1l2.5-0.3l2.6,0.2l2.5-0.1l2.5,0.1l2.5,0.1l2.5-0.2l2.5,0l2.5,0.1l2.6-0.1l2.5-0.1l2.5,0.1l2.5,0l2.5-0.2l2.5-0.1l2.5,0l2.5,0.1l2.4-0.2l2.5,0.2l2.4,0.1l2.5-0.4l2.4,0.3l2.4-0.1l2.5,0l2.4,0l2.5,0l2.4,0l2.5,0l2.4,0.1l2.4-0.1l2.5-0.2l2.4,0.1l2.5,0.1l2.4,0l2.5,0.1l2.4,0l2.4-0.1l2.5-0.3l2.4,0.3l2.5,0.1l2.4-0.2l2.5,0.1l2.4-0.2l2.4,0l2.5,0.1l2.4,0l2.5,0l2.4-0.3l2.5,0.2l2.4-0.1l2.4-0.3l0.5,0.5l0.4-0.2l0.5,0l0.4-0.2l0.5,0l0.4-0.3l0.5,0.2l0.4,0l0.4,0.3l0.5-0.4l0.4,0.3l0.5-0.6l0.4,0.2l0.5-0.3l0.4,0.3l0.5-0.2l0.4,0l0.4-0.2l0.5,0.1l0.4,0.1l0.5-0.1l0.4,0l0.5,0.1l0.4,0.1l0.5,0l0.4-0.6l0.5,0.4l0.4,0.1l0.5-0.6l0.4,0.1l0.5,0.1l0.4-0.5l0.5-0.3l0.4,0.7l0.5-0.8l0.4,0.1l0.5-0.3l0.4,0.4l0.5-0.9l0.4,0l0.5,1.1l0.4-1.4l0.5-0.2l0.5,0.8l0.4-0.8l0.5,0.1l0.4-0.3l0.5,0.3l0.4-0.7l0.5-0.1l0.4,0.2l0.5-0.1l0.4,0.6l0.5-0.9l0.4,0.7l0.5-0.5l0.4,0.2l0.5-1.4l0.4,0.8l0.5-0.8l0.4,0.4l0.4-0.4l0.5-0.7l0.4,0l0.5-1.5l0.4,0.8l0.5-1.2l0.4,1.1l0.5-0.5l0.4-1l0.4,0.9l0.5-1.9l0.4,1l0.4-1l0.4-2.3l0.5,0l0.4-1.3l0.4-0.3l0.4-2.3l0.4-3.6l0.4-2.3l0.4-2.7l0.5-2.3l0.5-1.9l0.4-0.6l0.5-4.5l0.3-1l0.4-4.8l0.3-3.5l0.4-2.3l0.4-4.3l0.3,5.2l0.4,4l0.4,5.5l0.4,2.4l0.3,6.9l0.4,6.1l0.4-3.8l0.4-3.9l0.4-5.5l0.5,4.1l0.4,4.8l0.5,1.1l0.4,4.2l0.5-1.8l0.4-2.8l0.5-2.3l0.4-2.7l0.5-5l0.4,8.3l0.5,5.5l0.4,4.6l0.5,5.1l0.4,4.2l0.4-4l0.4-4.3l0.4-4.7l0.4-8l0.4-4.3l0.4-8.3l0.4,10.5l0.5,5.9l0.4,7.7l0.4,4.9l0.5,5.5l0.4-2.5l0.4-4.5l0.4-4.7l0.5-5l0.4-5.3l0.4-4l0.5-6.9l0.4,7.4l0.3,5.4l0.4,6.7l0.4,3.4l0.4,5l0.4,2.7l0.4-1.9l0.4-5.9l0.4-3.2l0.4-5.3l0.4-4.5l0.4-4.4l0.5-5.8l0.3,6l0.4,7.6l0.4,4.3l0.4,3.7l0.4,3l0.4,4.2l0.4-2.4l0.5-2.1l0.4-4.1l0.4-3.5l0.5-2.1l0.4-4.2l0.4-7.2l0.4-3.8l0.4,8.7l0.4,6.5l0.4,7.2l0.4,5l0.4-2.8l0.4-4.6l0.5-5.3l0.4-4.5l0.4-5l0.4-4.5l0.4,4.1l0.4,6l0.4,4.2l0.4,3.4l0.4,4.4l0.4,2l0.4,2.9l0.4-4l0.5-2.6l0.4-3l0.4-3l0.4-4.4l0.4-5l0.4-5.4l0.4,6.1l0.4,5.7l0.4,3.2l0.4,3.8l0.4,4l0.4,4.5l0.4-1.6l0.4-5.2l0.4-2.9l0.4-4l0.4-3.8l0.4-4.1l0.4-5l0.5,6l0.4,5.9l0.4,6.7l0.5,3.4l0.4,3.7l0.5-2.6l0.4-3.2l0.4-2.3l0.5-4.5l0.4-2.9l0.4-4.8l0.5-5.3l0.4,3.2l0.4,6.2l0.4,3.8l0.4,3.6l0.4,3l0.4,2.6l0.4,2.3l0.4-2.8l0.4-2.7l0.4-3.9l0.5-1.7l0.4-5.8l0.4-6.8l0.4-3.1l0.4,5.8l0.4,3.9l0.3,3.6l0.4,5.1l0.4,4.2l0.4,1.7l0.4-0.5l0.4-4.6l0.4-3.9l0.3-2.7l0.4-8.3l0.4-4l0.4,5.9l0.4,2.8l0.4,3.4l0.4,2.2l0.5,3.7l0.4,1.8l0.4,2.6l0.4-3.6l0.4-5l0.5-6.8l0.4-5.1l0.4,3.9l0.4,4.8l0.4,3l0.5,2.4l0.4,4.5l0.4,3.1l0.4,1.9l0.4-5.5l0.5-3.9l0.4-7.6l0.4-7.4l0.4,5.2l0.4,3.1l0.4,6l0.4,3.9l0.3,2.8l0.4,3.4l0.5,3.6l0.4,0.2l0.5,2l0.4,0.9l0.5,1.1l0.4,0.2l0.5,1.5l0.4,0.2l0.4,1.7l0.4,1l0.5-0.5l0.4,0.9l2,0.3l2,0.1l2,0.4l2.1,0l2.5,0.1l2.4,0l2.5-0.1l2.5,0.1l2.5,0.1l2.5-0.1l2.5,0.1l2.5-0.2l2.5,0.1l2.5,0.1l2.5,0l2.5-0.1l2.5,0l2.5,0.1l2.5,0.1l2.5-0.2l2.5,0.2l2.5-0.1l2.5,0.1l2.5-0.1l2.5,0.1l2.5,0l2.5,0l2.5,0l2.5,0l2.5,0l2.5,0l2.5,0l2.5-0.3l2.5,0.3l2.5,0" stroke="#10f810"/>
<path d="M722,295.5l2.5,0.2l2.5,0l2.5,0l2.6,0l2.5-0.2l2.5,0.2l2.5,0l2.5-0.1l2.5-0.1l2.5,0.1l2.6,0l2.5,0.1l2.5-0.1l2.5,0l2.5,0.1l2.5,0l2.5-0.1l2.6,0.1l2.5,0l2.5,0l2.5-0.1l2.5,0.1l2.5,0l2.5-0.1l2.6,0l2.5,0l2.5,0l2.5,0l2.5,0.1l2.5,0l2.5-0.1l2.6,0l2.5,0.1l2.5-0.1l2.5,0.1l2.5,0l2.5,0l2.6,0l2.5,0l2.5,0l2.5,0l2.5-0.3l2.5,0.3l2.5-0.1l2.6,0l2.5,0l2.5,0.1l2.5,0l2.5-0.1l2.5,0.1l2.5,0l2.6,0l2.5,0l2.5,0l2.5,0l2.3-0.2l2.2,0.1l2.3,0.1l2.2,0l2.3-0.1l2.3-0.1l2.2-0.1l2.3,0l2.3-0.2l2.2,0.3l0.5-0.4l0.4,0.5l0.5-0.4l0.4,0.3l0.5,0.1l0.4-0.3l0.5-0.1l0.4,0l0.5-0.2l0.4,0.2l0.4,0.1l0.5-0.3l0.4-0.3l0.5,0.1l0.4,0.4l0.5-0.2l0.4-0.1l0.5-0.1l0.4,0.3l0.5-0.3l0.4,0l0.5,0l0.4-0.7l0.5,0.3l0.4-0.1l0.5-0.1l0.4,0.2l0.4-0.3l0.5,0l0.4,0l0.5,0.1l0.4-0.2l0.5,0.1l0.4,0.1l0.5-0.1l0.4,0l0.5,0.2l0.4-0.3l0.4,0.1l0.5-0.3l0.4-0.4l0.4-0.4l0.5-0.4l0.4,0l0.4,0.2l0.5-0.3l0.4,0.3l0.5-0.6l0.4,0l0.4-0.4l0.5-0.1l0.4-0.4l0.4-0.1l0.4,0.1l0.4-1l0.4-1.7l0.4-0.2l0.4-0.8l0.5-0.6l0.4,0.8l0.4-1.4l0.4-0.2l0.4,0.8l0.4,0.3l0.4,0.1l0.4,0.9l0.4,0.3l0.4-0.8l0.5-1.4l0.4-1.4l0.5-1.4l0.4-0.9l0.4-2l0.5-1.4l0.4-3.4l0.4,1.8l0.4,0.6l0.3,1.5l0.4,2l0.4-2.5l0.4-3.5l0.4-1.2l0.4-5.5l0.4-4l0.5,3.6l0.4,1.8l0.4,4.2l0.4,1.1l0.4,1.2l0.5,3l0.4-4.4l0.4-2.4l0.4-4.7l0.4-5.8l0.4-4.7l0.5-5.4l0.4,7.5l0.4,7.3l0.4,9.2l0.4,4.4l0.5,6.8l0.4,4.7l0.4-3.7l0.4-5.4l0.4-4.4l0.5-3.7l0.4-6.9l0.4-7.1l0.4,4.7l0.4,4l0.5,3.7l0.4,4.1l0.4,2.9l0.4,2.6l0.4-2.6l0.4-4.6l0.5-2.8l0.4-4.3l0.4-4.8l0.4-4.5l0.4,3.7l0.5,5.8l0.4,3.2l0.4,4.9l0.4,2.5l0.4,3.5l0.5-2.7l0.4-3.8l0.4-3.3l0.4-6.7l0.4-3.5l0.5-6.4l0.3,4.3l0.4,6.2l0.4,3.8l0.4,4.6l0.4,4.7l0.4,2.3l0.4,2.5l0.4-2.7l0.5-2.7l0.4-6.4l0.4-3.8l0.4-5.6l0.4-5.7l0.4,4.7l0.4,5.6l0.4,4.6l0.4,1.8l0.4,3.8l0.4,2.3l0.4,3.6l0.4-3.1l0.4-2.5l0.5-6.2l0.4-2.2l0.4-5.6l0.4-4.6l0.4,5l0.5,4.5l0.4,3.6l0.4,3.7l0.4,2.4l0.4,3.4l0.4-3.1l0.5-1.6l0.4-3.7l0.4-1.8l0.4-5.8l0.4-3.6l0.5,6.2l0.4,1.8l0.4,4.2l0.4,1.3l0.4,4.2l0.5,2l0.4-4.2l0.4-5.4l0.5-6.4l0.4-4.7l0.4-6.2l0.4-8.4l0.5-7.9l0.4,7.5l0.5,6.4l0.4,6.8l0.5,3.4l0.4,4.8l0.5-2.6l0.4-2.8l0.5-3.4l0.4-4.4l0.4,6l0.5,4.7l0.4,3.7l0.5,5.1l0.4,2.6l0.4,3.5l0.5,2.6l0.4,2.2l0.4-2.5l0.4-2.3l0.4-2l0.4-3.5l0.4-4l0.4-3.4l0.4-4.6l0.4,4.6l0.5,2l0.4,2.1l0.4,2.3l0.5,1.3l0.4,4.5l0.5,1.7l0.4,0.9l0.5,0.2l0.4,0.4l0.5-0.1l0.4,1.5l0.5,0l0.4-0.3l0.4-0.1l0.5,0.1l0.4-2l0.4-0.5l0.5,0.6l0.4-1.5l0.4-1.1l0.4-2.6l0.4-3.2l0.4-2.1l0.4-2.1l0.4-3.4l0.4-4.2l0.5-3.3l0.4,4.9l0.4,3.2l0.4,3.6l0.4,4.5l0.4,3.8l0.5,2l0.4,3.3l0.4,1.4l0.4,1.5l0.5,0.4l0.4,0.9l0.5-0.4l0.4,1.7l0.5,0.8l0.4,1.2l0.5,1.2l0.4,0.3l0.5,0.9l0.5,0l0.4-0.1l0.4-0.6l0.5-0.2l0.4-1.3l0.5-1l0.4-0.7l0.5,0.1l0.4-1.1l0.5-0.5l0.4-1.5l0.5-1.2l0.4-1.8l0.5-3.7l0.4-2.7l0.5-3l0.4-4.7l0.5-3.6l0.4-4.3l0.5-4.4l0.4,3.5l0.5,5.9l0.4,3.7l0.4,2.7l0.5,4.2l0.4,2.6l0.4,2.6l0.5,1.4l0.4,2.9l0.4,2.8l0.5,0.2l0.4-0.9l0.5-1.4l0.4-1.3l0.5-2.5l0.4-1.9l0.4-2.6l0.5-1.8l0.4-2l0.5-5.4l0.4-2.8l0.5-3.5l0.4-4.2l0.5-4.9l0.4,5.6l0.4,1.5l0.5,3.9l0.4,1.6l0.4,6.5l0.4,0.7l0.5,2.9l0.4,3.1l0.4,1.7l0.5,1.8l0.4,1.2l0.4,1l0.5,1.4l0.4,1l0.4,0.2l0.4,0.2l0.5,0.2l0.4-0.1l0.4,0.6l0.4,1.5l0.4,0.9l0.4-0.4l0.5,1l0.4,0.1l0.4,0.8l0.4-0.2l2.4,0.3l2.4,0.2l2.4,0.4l2.4-0.1l2.5-0.2l2.5,0.3l2.4,0l2.5,0.2l2.5-0.4l2.5,0.1l2.5,0l2.5,0.1l2.5-0.1l2.5-0.1l2.5,0.3l2.4-0.1l2.5-0.2l2.5,0.3l2.5,0l2.5,0l2.5,0l2.5-0.1l2.5-0.2l2.5,0.2l2.4,0.2l2.5-0.1l2.5-0.2l2.5,0l2.5,0.2l2.5,0l2.5-0.1l2.5,0.1l2.5-0.1l2.4,0l2.5,0l2.5,0l2.5-0.1l2.5,0.4l2.5-0.1l2.5,0l2.5-0.1l2.5,0.1l2.4-0.3l2.5,0.1l2.5,0.1l2.5,0.1l2.5-0.1l2.5,0.1l2.5-0.1l2.5,0.2l2.4,0l2.5,0l2.5-0.2l2.5,0l2.5,0.1l2.5-0.1l2.5-0.1l2.5,0.2l2.5-0.1l2.4,0l2.5,0.2l2.5,0l2.5-0.1l2.5,0.1l2.5,0l2.5,0l2.5,0l2.5-0.2l2.4,0.2l2.5-0.2l2.5,0.2l2.5,0l2.5-0.1l2.5,0.1l2.5,0l2.5-0.1l2.5,0.1l2.4,0l2.5,0l2.5,0l2.5-0.1l2.5,0.1" stroke="#101010"/>
</g>
<text x="723.8" y="313.5" font-size="16" text-anchor="middle" >0</text>
<text x="769.2" y="313.5" font-size="16" text-anchor="middle" >1</text>
<text x="818.7" y="313.5" font-size="16" text-anchor="middle" >2</text>
<text x="872.5" y="313.5" font-size="16" text-anchor="middle" >3</text>
<text x="922.0" y="313.5" font-size="16" text-anchor="middle" >4</text>
<text x="974.6" y="313.5" font-size="16" text-anchor="middle" >5</text>
<text x="1022.5" y="313.5" font-size="16" text-anchor="middle" >6</text>
<text x="1072.2" y="313.5" font-size="16" text-anchor="middle" >7</text>
<text x="1122.6" y="313.5" font-size="16" text-anchor="middle" >8</text>
<text x="1173.3" y="313.5" font-size="16" text-anchor="middle" >9</text>
<text x="1223.5" y="313.5" font-size="16" text-anchor="middle" >10</text>
<text x="718.7" y="202.9" font-size="16" text-anchor="end" >5</text>
<text x="718.7" y="252.1" font-size="16" text-anchor="end" >2.5</text>
<text x="718.7" y="301.4" font-size="16" text-anchor="end" >0</text>
<text x="721.1" y="194.3" font-size="16">× <tspan x="733.9" y="192.6">10</tspan><tspan x="750.3" y="182.1" font-size="11">5</tspan></text>
<text transform="translate(689.0,248.2) rotate(-90)" font-size="16.5" text-anchor="middle">Amplitude</text>
<text x="970.8" y="331.1" font-size="16.8" text-anchor="middle" >Range (m)</text>
<rect x="1120.8" y="202.4" width="99.9" height="40.3" fill="#fff" stroke="#666" stroke-width="1.3"/>
<path d="M1125.8,212.0 H1157.0" stroke="#10f810" stroke-width="1.9"/>
<path d="M1125.8,230.4 H1157.0" stroke="#101010" stroke-width="1.9"/>
<text x="1160.4" y="216.7" font-size="13" text-anchor="start" >Reference</text>
<text x="1160.4" y="234.5" font-size="13">f<tspan font-size="10" dy="4.5">0</tspan><tspan dy="-4.5">=15GHz</tspan></text></g>
<g><clipPath id="c6"><rect x="721.0" y="363.0" width="504.9" height="100.5"/></clipPath>
<path d="M772.3,363.0 V462.0 M822.6,363.0 V462.0 M872.9,363.0 V462.0 M923.2,363.0 V462.0 M973.5,363.0 V462.0 M1023.7,363.0 V462.0 M1074.0,363.0 V462.0 M1124.3,363.0 V462.0 M1174.6,363.0 V462.0 M722.0,412.5 H1224.9" stroke="#808080" stroke-width="1.25" stroke-dasharray="1.8 2.05" fill="none"/>
<rect x="722.0" y="363.0" width="502.9" height="99.0" fill="none" stroke="#707070" stroke-width="1.15"/>
<path d="M772.3,363.0v5M772.3,462.0v-5M822.6,363.0v5M822.6,462.0v-5M872.9,363.0v5M872.9,462.0v-5M923.2,363.0v5M923.2,462.0v-5M973.5,363.0v5M973.5,462.0v-5M1023.7,363.0v5M1023.7,462.0v-5M1074.0,363.0v5M1074.0,462.0v-5M1124.3,363.0v5M1124.3,462.0v-5M1174.6,363.0v5M1174.6,462.0v-5M722.0,412.5h5M1224.9,412.5h-5" stroke="#555" stroke-width="1" fill="none"/>
<g clip-path="url(#c6)" fill="none" stroke-width="2.25" stroke-linejoin="round">
<path d="M938.2,462.0 L938.2,461.4 L973.5,461.2 L1006.6,460.9 L1023.7,460.4 L1035.3,459.6 L1043.9,458.4 L1048.9,457.2 L1053.9,455.3 L1056.4,452.1 L1057.2,452.1 L1057.4,462.0 Z" fill="#10f810" stroke="none"/>
<path d="M722,462l2.5,0l2.5,0l2.5,0l2.6,0l2.5,0l2.5-0.1l2.5,0.1l2.5-0.3l2.5,0.3l2.5,0l2.6-0.1l2.5,0.1l2.5,0l2.5,0l2.5-0.1l2.5-0.1l2.5,0.2l2.6,0l2.5,0l2.5-0.1l2.5,0.1l2.5,0l2.5-0.2l2.5,0.2l2.6,0l2.5,0l2.5,0l2.5,0l2.5,0l2.5,0l2.5,0l2.6-0.3l2.5,0.3l2.5,0l2.5-0.1l2.5,0l2.5,0l2.6-0.1l2.5-0.1l2.5,0.3l2.5,0l2.5,0l2.5-0.2l2.5,0.1l2.6,0.1l2.5-0.1l2.5,0l2.5,0.1l2.5-0.1l2.5,0.1l2.5,0l2.6,0l2.5-0.1l2.5-0.1l2.5,0.2l2.5-0.1l2.5-0.1l2.5,0.1l2.6,0.1l2.5-0.2l2.5,0.2l2.5,0l2.5-0.1l2.5-0.2l2.5,0.3l2.6,0l2.5-0.1l2.5,0.1l2.5-0.1l2.5-0.1l2.5,0.2l2.5-0.1l2.6,0.1l2.5-0.3l2.5,0.1l2.5,0l2.5,0.1l2.5,0.1l2.5-0.2l2.6,0l2.5,0l2.5-0.3l2.5,0.1l2.5,0.2l2.5-0.1l2.5-0.1l2.5,0.2l2.4-0.2l2.5,0.1l2.4-0.1l2.5,0l2.4,0.1l2.4-0.3l2.5,0.2l2.4-0.1l2.5,0.2l2.4,0l2.5-0.1l2.4,0l2.4-0.2l2.5,0.3l2.4-0.4l2.5,0.3l2.4-0.3l2.5,0.1l2.4,0.1l2.4-0.2l2.5,0.2l2.4-0.1l2.5,0l2.4-0.3l2.5,0.4l2.4-0.3l2.4,0.2l2.5,0.1l2.4-0.1l2.5-0.2l2.4,0.1l2.5,0l2.4-0.2l2.4,0.1l0.5-0.2l0.4,0.5l0.5-0.7l0.4,0.1l0.5,0.4l0.4-0.1l0.5-0.3l0.4,0.2l0.4-0.3l0.5,0l0.4,0.1l0.5,0.2l0.4,0.2l0.5-0.7l0.4,0.3l0.5-0.6l0.4-0.3l0.4,0.4l0.5-0.2l0.4-0.2l0.5,0.1l0.4,0.5l0.5-0.1l0.4-0.1l0.5-0.2l0.4,0.1l0.5-0.1l0.4-0.4l0.5,0.5l0.4-0.2l0.5,0.2l0.4-0.3l0.5-0.4l0.4-0.3l0.5,0.3l0.4,0.1l0.5-1l0.4,1.2l0.5-0.7l0.4,0l0.5-0.4l0.4-0.4l0.5,0.2l0.5-1.6l0.4,0.4l0.5,0.3l0.4,0.4l0.5,0.3l0.4-1.2l0.5,0l0.4,0.1l0.5-0.5l0.4,0.4l0.5,0.7l0.4,0.1l0.5-0.7l0.4-0.1l0.5-0.3l0.4-0.1l0.5,0l0.4,0l0.4-0.9l0.5-0.5l0.4,0.3l0.5-0.2l0.4-0.7l0.5,0l0.4-1l0.5,0.5l0.4-1l0.4,0.5l0.5-0.9l0.4-0.1l0.4,0l0.4-2l0.5-3.1l0.4-0.5l0.4-1.2l0.4-2.3l0.4-1.4l0.4-2.5l0.4,0.9l0.5-4l0.5-2.5l0.4-4.5l0.5-2l0.3-0.5l0.4-4.9l0.3-1.4l0.4-6.1l0.4-2.8l0.3,4.5l0.4,5.3l0.4,4.6l0.4,2.4l0.3,8.2l0.4,5.5l0.4-4l0.4-3l0.4-6.5l0.5,4.3l0.4,3.2l0.5,4l0.4,2.8l0.5-1.4l0.4-2.2l0.5-3.9l0.4-2.9l0.5-4.6l0.4,8l0.5,4.5l0.4,5l0.5,6l0.4,4.3l0.4-4.7l0.4-3.2l0.4-5.9l0.4-7.3l0.4-5.7l0.4-6.7l0.4,9.3l0.5,8l0.4,5.1l0.4,6.1l0.5,6l0.4-2.9l0.4-3.8l0.4-3.2l0.5-4.2l0.4-7.1l0.4-5.8l0.5-5.6l0.4,7.8l0.3,4.3l0.4,7.1l0.4,2.5l0.4,4.3l0.4,4.5l0.4-2.8l0.4-4.4l0.4-4.2l0.4-3.4l0.4-4.9l0.4-5.2l0.5-6.4l0.3,5.7l0.4,6.4l0.4,5.4l0.4,4.1l0.4,4l0.4,3.3l0.4-1.3l0.5-3.6l0.4-3.7l0.4-2.8l0.5-5l0.4-3.5l0.4-5l0.4-4.6l0.4,11l0.4,4.5l0.4,6.2l0.4,6.1l0.4-1.8l0.4-4.3l0.5-4.8l0.4-5.5l0.4-3.2l0.4-7.5l0.4,6.5l0.4,3.2l0.4,4.6l0.4,3.5l0.4,4.2l0.4,2.8l0.4,2l0.4-1.5l0.5-3.9l0.4-2.9l0.4-4.2l0.4-3.9l0.4-6.8l0.4-4.3l0.4,6.4l0.4,3l0.4,6.7l0.4,3l0.4,6.2l0.4,2.4l0.4-2l0.4-5.4l0.4-2.4l0.4-2.4l0.4-4.9l0.4-4.1l0.4-5.2l0.5,7.6l0.4,3.9l0.4,5.7l0.5,5.5l0.4,3l0.5-3l0.4-2.4l0.4-2.7l0.5-4.6l0.4-4.2l0.4-5.8l0.5-2.9l0.4,4.3l0.4,4.7l0.4,4.4l0.4,3l0.4,4.5l0.4,2.1l0.4,1.8l0.4-2.9l0.4-2.4l0.4-2.9l0.5-4.3l0.4-5.4l0.4-3.7l0.4-5.4l0.4,2.8l0.4,7.5l0.3,3l0.4,5.9l0.4,2.8l0.4,2.5l0.4-3.1l0.4-2.6l0.4-6.1l0.3-1.7l0.4-5.1l0.4-5.9l0.4,4.5l0.4,5.8l0.4,1.1l0.4,3.3l0.5,2l0.4,2l0.4,4l0.4-4.9l0.4-3.8l0.5-4.4l0.4-7.4l0.4,5.4l0.4,4.7l0.4,0.6l0.5,5.7l0.4,3.6l0.4,1.4l0.4,2.2l0.4-5.6l0.5-6.6l0.4-4.9l0.4-7.2l0.4,5.6l0.4,3.8l0.4,3.8l0.4,3.7l0.3,4.8l0.4,2.4l0.5,3.2l0.4,0.6l0.5,1.3l0.4,1.4l0.5,1.8l0.4,0.8l0.5-0.8l0.4,1.7l0.4,1.1l0.4,0.8l0.5,0.9l0.4,0l2,0.2l2,0.5l2,0.4l2.1,0.1l2.5,0.1l2.4-0.3l2.5,0.2l2.5,0l2.5-0.1l2.5-0.1l2.5,0.2l2.5,0.1l2.5,0l2.5,0l2.5,0l2.5,0l2.5-0.1l2.5,0l2.5,0l2.5-0.2l2.5,0.2l2.5,0l2.5-0.4l2.5,0.2l2.5,0.2l2.5,0l2.5,0.1l2.5-0.1l2.5,0.1l2.5,0l2.5,0l2.5-0.1l2.5-0.1l2.5,0.2l2.5,0" stroke="#10f810"/>
<path d="M722,461.9l2.5,0.1l2.4-0.1l2.5,0.1l2.5,0l2.5-0.2l2.4,0.2l2.5-0.1l2.5,0.1l2.5-0.3l2.4,0l2.5,0l2.5,0.1l2.4-0.1l2.5,0.2l2.5-0.2l2.5,0.2l2.4-0.3l2.5,0l2.5,0.1l2.5-0.2l2.4,0.1l2.5-0.2l2.5,0.3l2.4,0l0.5-0.1l0.4-0.6l0.5,0.9l0.4-0.3l0.4,0l0.5-0.2l0.4,0.4l0.4-0.8l0.5,0.7l0.4-0.7l0.5,0.3l0.4,0.1l0.4-0.4l0.5,0.4l0.4-0.3l0.5,0.2l0.4-0.1l0.4-0.1l0.5-0.3l0.4-0.4l0.4,0.4l0.5-0.5l0.4,0.4l0.5-0.3l0.4,0l0.4,0.1l0.5-0.2l0.4,0.1l0.4-0.1l0.5,0.5l0.4-0.4l0.5-0.4l0.4,0.7l0.4-0.6l0.5-0.3l0.4-0.4l0.4-0.4l0.5-0.5l0.4-0.1l0.4-0.5l0.5-0.1l0.4-0.1l0.5-0.5l0.4-0.5l0.4-0.1l0.5-0.1l0.4-0.4l0.5-1.4l0.4-0.6l0.5-1.2l0.4-2.5l0.5,0l0.4-2l0.5-2.1l0.4,0.1l0.5-3.7l0.4-0.9l0.5-1.5l0.4,0l0.4-1.9l0.5-1.8l0.4-1.8l0.5-0.9l0.4-2.5l0.4,3.2l0.5,4.7l0.4,4.9l0.5-0.3l0.4,1.7l0.4,3.2l0.5,0.5l0.4,2.8l0.4-5l0.4-6.5l0.4-5.4l0.3-9l0.4,5.7l0.4,4.4l0.4,4.1l0.4,5l0.4,3.5l0.4-3.9l0.4-2.4l0.4-4.1l0.4-1.5l0.4-5.7l0.4-3.4l0.4-6.4l0.4,4.8l0.4,5.3l0.4,4l0.4,6.2l0.5,1.8l0.4,4.4l0.4,2.6l0.4,2.8l0.4-2.6l0.4-2.9l0.5-1.7l0.4-5.4l0.4-4l0.5-4.3l0.4-5.4l0.4,6.4l0.4,2l0.5,6.4l0.4,4.2l0.4,2.5l0.4,3.4l0.4-1.5l0.5-3.2l0.4-2.4l0.4-3.2l0.4-3.6l0.4-3.3l0.4,3.6l0.4,2.1l0.4,2.9l0.4,2.1l0.4,1.6l0.5-2.8l0.4-4.1l0.4-1.8l0.4-5l0.4-4.2l0.5-5.2l0.4,5.4l0.4,5.9l0.4,6l0.5,2.8l0.4,4.3l0.4,2.8l0.5,3.9l0.4-3.8l0.4-5l0.4-5.3l0.4-6.8l0.4-7.8l0.4,6l0.4,6.8l0.4,5.3l0.4,5l0.4,5.1l0.4,2.9l0.3,3.6l0.4-4.2l0.4-4l0.4-4.9l0.4-5.2l0.4-5l0.4-10.3l0.4-6.5l0.4,7l0.5,7.3l0.4,6.8l0.4,6.9l0.4,5.3l0.4,3.6l0.4-2.9l0.4-3.9l0.4-4.7l0.4-3.1l0.4-7.8l0.4-4.2l0.4-6.1l0.4,8.5l0.5,8.9l0.5,7.7l0.4,5.6l0.5,5.4l0.4-4.2l0.3-4.4l0.4-4.9l0.4-7.3l0.4-5.6l0.4-6.1l0.4-7.7l0.5,11l0.4,7.7l0.5,8l0.4,6.5l0.5,6.2l0.4-4.6l0.4-4.2l0.4-6.7l0.5-7.8l0.4-4.9l0.4-7.1l0.4,7.5l0.4,7l0.5,5.4l0.4,5.1l0.4,5.5l0.4,3.9l0.4-4l0.4-4.2l0.4-5.5l0.4-6.8l0.4-3.8l0.4-6.8l0.4-7.3l0.4,9.1l0.4,6.1l0.4,5.6l0.4,5.6l0.4,4.5l0.4,4.8l0.3,4.3l0.5-4.4l0.4-4.9l0.4-6l0.4-7.3l0.4-8l0.5-6.1l0.4,7.9l0.4,8.9l0.4,8.2l0.4,6l0.4,4.9l0.4-2.6l0.4-4.1l0.4-2.6l0.4-4.5l0.3-3.8l0.4-7.7l0.4-4.1l0.5,2l0.4,3.9l0.4-0.1l0.5,3.1l0.4,1.2l0.4,0l0.5,1.6l0.4,2.4l0.4,2.4l0.4,2.4l0.4,1.1l0.4,1.9l0.4,1.1l0.4,1.3l0.4,1.3l0.4-0.4l0.4-1.4l0.4-1.5l0.3,0.4l0.5-1.1l0.4-1.1l0.4-0.6l0.4-1.7l0.4-1.5l0.4-0.4l0.5-3.7l0.4-0.4l0.4-2.2l0.4-4.5l0.4-2.2l0.5-2.1l0.4,3.9l0.5,2.9l0.4,3.1l0.5,1.5l0.4,3.1l0.4,2.1l0.5,3.1l0.4,1.3l0.5,0.6l0.4,0.6l0.4-0.3l0.5,0.3l0.4,0.4l0.4,0.6l0.4,0.7l0.5,1.7l0.4,0l0.4,1.2l0.4,0.5l0.5,0.8l0.4-0.1l0.4,0.1l0.5,0.2l0.4-0.5l0.4,0.3l0.5,0.3l0.4-0.3l0.5,0l0.4,0l0.5,0.1l0.4-0.5l0.5,0.7l0.4,0.3l0.4-0.7l0.5-0.1l0.4-0.5l0.5,1.1l0.4-0.1l0.5-0.2l0.4-0.1l0.5,0l0.4-0.7l0.5-0.7l0.4-0.4l0.5-1.5l0.4-0.8l0.5-0.9l0.4-0.8l0.5-1.3l0.4,0.2l0.4-1.6l0.5,0.2l0.4-0.2l0.5,0l0.4-3l0.4-0.6l0.5-1.8l0.4-1.4l0.4-2l0.4-4.2l0.5-3.2l0.4-3.4l0.4-2.7l0.4,4.5l0.5,2.1l0.4,3.4l0.4,2.1l0.5,3.3l0.4,3l0.4,0.5l0.4,2.1l0.5,1.9l0.4,1.3l0.4-0.7l0.5,0.7l0.4,1.1l0.5,0.3l0.4,0l0.4,1.3l0.5,0.6l0.4,0.9l0.5,0.8l0.4,0.8l0.4-0.1l0.5,0.2l0.4,0.4l0.5-0.4l0.4-0.2l0.5,0.3l0.4-0.1l0.5-0.1l0.4-0.2l0.5,0.5l0.4,0.6l0.5-0.3l0.4,0.2l0.5,0l0.4,0.3l0.5-0.3l0.4,0.5l0.5-0.1l0.4,0.1l0.5-0.3l0.4,0.6l0.5,0l0.4-0.1l0.5,0.1l0.4,0.2l0.5-0.2l0.4-0.3l0.5,0.5l0.4,0.2l0.4-0.4l2.5,0.1l2.4,0.1l2.5,0l2.4,0.1l2.4,0.1l2.5-0.1l2.4,0l2.4,0.1l2.5,0.1l2.4-0.1l2.5-0.1l2.4,0.3l2.4-0.2l2.5,0.2l2.5,0l2.5-0.1l2.5,0.1l2.5-0.1l2.5-0.1l2.5,0.1l2.5,0.1l2.5-0.1l2.5-0.1l2.5,0.2l2.5-0.1l2.5,0.2l2.5-0.2l2.5,0l2.4,0l2.5,0l2.5,0l2.5,0.2l2.5-0.3l2.5,0.1l2.5-0.1l2.5,0.4l2.5-0.3l2.5,0.4l2.5-0.2l2.5-0.3l2.5,0.4l2.5-0.2l2.5,0l2.5-0.3l2.5,0.1l2.5,0.2l2.5,0l2.4,0.1l2.5,0l2.5-0.1l2.5-0.1l2.5,0.2l2.5-0.1l2.5,0.1l2.5-0.1l2.5,0.1l2.5,0l2.5-0.3l2.5,0.5l2.5-0.4l2.5,0.1l2.5,0.1l2.5,0.1l2.5,0l2.5,0l2.5-0.2l2.5,0.2l2.4,0l2.5,0l2.5-0.1l2.5,0.1l2.5-0.1l2.5,0.1l2.5,0.1l2.5-0.2l2.5,0.2l2.5-0.2l2.5-0.1l2.5-0.1l2.5,0.4l2.5-0.1l2.5-0.1l2.5,0l2.5,0.2l2.5-0.1l2.5-0.1l2.4,0.1l2.5,0.1l2.5-0.1l2.5,0l2.5,0l2.5,0l2.5,0.1l2.5-0.1l2.5,0.1l2.5-0.1l2.5,0l2.5,0l2.5,0l2.5,0.1l2.5-0.2l2.5,0.2l2.5-0.1l2.5-0.1l2.5,0.1l2.4,0l2.5,0l2.5-0.2l2.5,0.3l2.5,0l2.5,0l2.5,0l2.5,0l2.5-0.1l2.5,0.1" stroke="#1c14f8"/>
</g>
<text x="723.8" y="479.7" font-size="16" text-anchor="middle" >0</text>
<text x="769.2" y="479.7" font-size="16" text-anchor="middle" >1</text>
<text x="818.7" y="479.7" font-size="16" text-anchor="middle" >2</text>
<text x="872.5" y="479.7" font-size="16" text-anchor="middle" >3</text>
<text x="922.0" y="479.7" font-size="16" text-anchor="middle" >4</text>
<text x="974.6" y="479.7" font-size="16" text-anchor="middle" >5</text>
<text x="1022.5" y="479.7" font-size="16" text-anchor="middle" >6</text>
<text x="1072.2" y="479.7" font-size="16" text-anchor="middle" >7</text>
<text x="1122.6" y="479.7" font-size="16" text-anchor="middle" >8</text>
<text x="1173.3" y="479.7" font-size="16" text-anchor="middle" >9</text>
<text x="1223.5" y="479.7" font-size="16" text-anchor="middle" >10</text>
<text x="718.7" y="368.7" font-size="16" text-anchor="end" >5</text>
<text x="718.7" y="418.2" font-size="16" text-anchor="end" >2.5</text>
<text x="718.7" y="467.7" font-size="16" text-anchor="end" >0</text>
<text x="721.1" y="360.1" font-size="16">× <tspan x="733.9" y="358.4">10</tspan><tspan x="750.3" y="347.9" font-size="11">5</tspan></text>
<text transform="translate(689.0,413.7) rotate(-90)" font-size="16.5" text-anchor="middle">Amplitude</text>
<text x="970.8" y="496.6" font-size="16.8" text-anchor="middle" >Range (m)</text>
<rect x="1120.8" y="368.2" width="99.9" height="40.3" fill="#fff" stroke="#666" stroke-width="1.3"/>
<path d="M1125.8,377.8 H1157.0" stroke="#10f810" stroke-width="1.9"/>
<path d="M1125.8,396.2 H1157.0" stroke="#1c14f8" stroke-width="1.9"/>
<text x="1160.4" y="382.5" font-size="13" text-anchor="start" >Reference</text>
<text x="1160.4" y="400.3" font-size="13">f<tspan font-size="10" dy="4.5">0</tspan><tspan dy="-4.5">=30GHz</tspan></text></g>
<g><clipPath id="c7"><rect x="1366.0" y="32.0" width="519.8" height="101.2"/></clipPath>
<path d="M1418.8,32.0 V131.7 M1470.6,32.0 V131.7 M1522.3,32.0 V131.7 M1574.1,32.0 V131.7 M1625.9,32.0 V131.7 M1677.7,32.0 V131.7 M1729.5,32.0 V131.7 M1781.2,32.0 V131.7 M1833.0,32.0 V131.7 M1367.0,81.8 H1884.8" stroke="#6c6c6c" stroke-width="1.25" stroke-dasharray="2.0 1.85" fill="none"/>
<rect x="1367.0" y="32.0" width="517.8" height="99.7" fill="none" stroke="#707070" stroke-width="1.15"/>
<path d="M1418.8,32.0v5M1418.8,131.7v-5M1470.6,32.0v5M1470.6,131.7v-5M1522.3,32.0v5M1522.3,131.7v-5M1574.1,32.0v5M1574.1,131.7v-5M1625.9,32.0v5M1625.9,131.7v-5M1677.7,32.0v5M1677.7,131.7v-5M1729.5,32.0v5M1729.5,131.7v-5M1781.2,32.0v5M1781.2,131.7v-5M1833.0,32.0v5M1833.0,131.7v-5M1367.0,81.8h5M1884.8,81.8h-5" stroke="#555" stroke-width="1" fill="none"/>
<g clip-path="url(#c7)" fill="none" stroke-width="2.25" stroke-linejoin="round">
<path d="M1589.7,131.7 L1589.7,131.1 L1625.9,130.9 L1660.1,130.6 L1677.7,130.1 L1689.6,129.3 L1698.4,128.1 L1703.6,126.9 L1708.7,124.9 L1711.3,121.7 L1712.1,121.7 L1712.4,131.7 Z" fill="#10f810" stroke="none"/>
<path d="M1367,131.7l2.6-0.1l2.6,0.1l2.6-0.1l2.6,0.1l2.5-0.1l2.6,0.1l2.6-0.2l2.6,0.1l2.6,0.1l2.6,0l2.6-0.1l2.6,0.1l2.6,0l2.5-0.1l2.6,0.1l2.6,0l2.6-0.3l2.6,0.2l2.6,0.1l2.6-0.1l2.6,0.1l2.6,0l2.5,0l2.6,0l2.6-0.1l2.6,0.1l2.6-0.2l2.6,0.2l2.6-0.1l2.6,0.1l2.6,0l2.5,0l2.6-0.1l2.6-0.2l2.6,0.3l2.6-0.1l2.6,0.1l2.6-0.1l2.6,0l2.6,0.1l2.5-0.2l2.6,0l2.6,0.1l2.6,0l2.6,0.1l2.6-0.1l2.6,0.1l2.6-0.2l2.6,0.2l2.6-0.1l2.5,0.1l2.6,0l2.6,0l2.6-0.1l2.6,0l2.6,0l2.6-0.1l2.6,0.2l2.6-0.2l2.5,0.2l2.6,0l2.6,0l2.6-0.2l2.6-0.1l2.6,0.3l2.6,0l2.6,0l2.6-0.1l2.5-0.1l2.6,0.1l2.6,0l2.6-0.2l2.6,0.2l2.6-0.1l2.6,0.1l2.6,0.1l2.6,0l2.5-0.1l2.6,0l2.6,0l2.6-0.1l2.6-0.1l2.6-0.1l2.6,0.3l2.6-0.2l2.6-0.2l2.5,0.1l2.5,0l2.5,0l2.5,0.2l2.5-0.3l2.5,0.1l2.6,0l2.5-0.1l2.5,0l2.5,0.2l2.5,0.1l2.5-0.2l2.5-0.1l2.6,0l2.5-0.1l2.5,0l2.5,0l2.5,0.3l2.5-0.3l2.6,0l2.5-0.2l2.5,0.1l2.5,0.2l2.5-0.1l2.5-0.1l2.5,0.2l2.6,0.1l2.5-0.3l2.5,0.2l2.5-0.1l2.5-0.1l2.5,0l2.5-0.2l2.6,0.1l2.5,0l0.4-0.2l0.5,0.2l0.5,0.3l0.4-0.4l0.5,0.3l0.4-0.4l0.5,0.3l0.4-0.3l0.5-0.4l0.5,0.1l0.4,0.3l0.5,0.1l0.4-0.3l0.5-0.4l0.5,0l0.4,0.5l0.5-0.6l0.4,0l0.5-0.1l0.4-0.2l0.5,0.5l0.5-0.4l0.4,0.1l0.5-0.3l0.4,0.4l0.5,0.1l0.5-0.3l0.4-0.2l0.5,0.3l0.5-0.1l0.4-0.1l0.5,0l0.5-0.1l0.4-0.1l0.5-0.6l0.4,0.4l0.5-0.3l0.5-0.5l0.4-0.1l0.5,0.7l0.5-0.4l0.4,0l0.5-0.6l0.5,0.6l0.4-0.4l0.5-0.6l0.5-0.3l0.4,0.4l0.5-0.6l0.5-0.5l0.4,0.8l0.5-0.9l0.5,0.4l0.4,0.8l0.5-0.9l0.5,0l0.4-0.6l0.5,0.7l0.4-1.1l0.5,0.5l0.5-0.6l0.4,0l0.5-0.7l0.4-0.7l0.5,0.2l0.4-0.1l0.5-1l0.5,0.2l0.4-0.6l0.5-0.6l0.4,0.3l0.5-0.3l0.4,0.2l0.5-1.1l0.4-1.7l0.4-1.7l0.4-1l0.4-0.1l0.5-2.1l0.4-4.3l0.4-1.7l0.5-2.9l0.4-0.3l0.5-3.1l0.5-1.9l0.4-3.6l0.4-2.3l0.4-1.8l0.4-4.8l0.3-3l0.4-4.3l0.4,4.5l0.4,7.2l0.4,1.6l0.4,4.2l0.3,8.3l0.4,5l0.4-2.2l0.4-8.8l0.5-2.5l0.4,5.5l0.5,1.8l0.4,6.7l0.5,0.3l0.4-2.2l0.5-2.7l0.5-3.7l0.4-2.6l0.5-3.7l0.5,8.1l0.4,4.9l0.5,6.3l0.5,4.3l0.4,4.4l0.4-4.3l0.5-4l0.4-4.5l0.4-6.4l0.4-8.2l0.4-6.3l0.4,8.8l0.5,8.2l0.4,5.9l0.5,7.4l0.4,4.9l0.4-3l0.5-3.7l0.4-5.5l0.5-3l0.4-5.6l0.5-6.8l0.4-5.9l0.4,7l0.4,4.3l0.4,7.1l0.4,4.3l0.4,5l0.4,3.4l0.4-2.9l0.4-3.4l0.5-3.7l0.4-7.6l0.4-1.1l0.4-7.4l0.4-5.7l0.4,5.6l0.5,5.8l0.4,6.2l0.4,4.5l0.4,2.6l0.4,4.2l0.4-1.6l0.5-3.4l0.4-2.7l0.4-4.2l0.5-2.5l0.4-6l0.5-3.4l0.4-5.5l0.4,9.4l0.4,5.6l0.4,7.8l0.5,4.9l0.4-3.2l0.4-4.6l0.4-3.9l0.4-6.9l0.4-1.9l0.4-6.7l0.5,5.8l0.4,4l0.4,6.1l0.4,1l0.4,6.7l0.5,0.4l0.4,3.4l0.4-2.6l0.4-3.8l0.5-2.3l0.4-5l0.4-4.1l0.5-4.2l0.4-5.9l0.4,4.4l0.4,6.5l0.4,5.2l0.4,4.3l0.4,4.1l0.4,3.1l0.4-3.1l0.5-2.2l0.4-3.9l0.4-2.4l0.4-5.2l0.4-4.9l0.4-4.7l0.5,6.7l0.4,4.7l0.5,5.5l0.5,4.7l0.4,4.6l0.4-2.8l0.5-2.1l0.4-3.4l0.5-4.3l0.4-4.7l0.5-2l0.4-7.1l0.4,4.4l0.5,5l0.4,4.9l0.4,3.9l0.4,0.4l0.4,4.8l0.5,1.8l0.4-2.4l0.4-3.1l0.4-6l0.5-3.3l0.4-1.5l0.4-4.9l0.4-6.4l0.4,5.4l0.4,6l0.4,4l0.4,2.4l0.4,4.6l0.4,2.8l0.4-6.4l0.4-0.4l0.4-2.5l0.4-5.7l0.4-3.1l0.4-6.2l0.4,4.6l0.4,4.7l0.4,2.1l0.5,3.5l0.4,3l0.4,1.5l0.4,2.9l0.5-3.6l0.4-6.2l0.5-5.6l0.4-5.1l0.4,3.5l0.4,6.2l0.5,3.8l0.4,2.2l0.4,2.1l0.5,1.6l0.4,4.2l0.4-5.7l0.5-3.1l0.4-8.2l0.5-7.4l0.4,5.9l0.3,3.9l0.4,4.1l0.4,2.3l0.4,6.3l0.4,2l0.5,1.4l0.5,1.9l0.4,1.9l0.5,1.9l0.5,1l0.4-0.7l0.5,1.7l0.4,0.5l0.4,1l0.5,1.6l0.4,0.6l0.5,0l2,0.2l2.1,0.4l2.1,0.4l2.1,0.1l2.5,0l2.6-0.2l2.6,0.2l2.5,0l2.6-0.1l2.6,0.1l2.6,0l2.5-0.1l2.6,0.3l2.6-0.1l2.6-0.1l2.5,0.1l2.6,0l2.6,0l2.5,0.1l2.6-0.2l2.6,0.2l2.6-0.2l2.5,0.2l2.6-0.4l2.6,0.3l2.5,0.1l2.6,0l2.6,0l2.6,0l2.5,0l2.6-0.2l2.6,0l2.6,0.2l2.5,0l2.6,0" stroke="#10f810"/>
<path d="M1367,131.7l2.6,0l2.6-0.3l2.6,0.3l2.6,0l2.5,0l2.6-0.1l2.6,0.1l2.6-0.1l2.6-0.2l2.6,0.3l2.6-0.1l2.6,0.1l2.6,0l2.5,0l2.6,0l2.6,0l2.6,0l2.6,0l2.6-0.1l2.6,0l2.6,0l2.6,0.1l2.5,0l2.6,0l2.6,0l2.6,0l2.6,0l2.6-0.1l2.6-0.1l2.6,0.2l2.6-0.1l2.5,0.1l2.6,0l2.6,0l2.6,0l2.6-0.1l2.6,0l2.6,0.1l2.6-0.1l2.6,0l2.5,0.1l2.6-0.1l2.6,0l2.6-0.1l2.6,0l2.6,0l2.6,0.2l2.6-0.1l2.6,0.1l2.6,0l2.5,0l2.6,0l2.6,0l2.6,0l2.6,0l2.6,0l2.6,0l2.6,0l2.6,0l2.5,0l2.6,0l2.5,0l2.5,0l2.5-0.2l2.5,0l2.6,0.1l2.5,0.1l2.5-0.2l2.5,0.1l2.5-0.2l2.6,0l2.5-0.2l2.5,0.3l2.5-0.3l2.5,0l0.5,0.2l0.5-0.4l0.4,0.3l0.5,0l0.4,0l0.5,0.1l0.4-0.3l0.5,0.2l0.5-0.3l0.4,0l0.5,0.2l0.4-0.3l0.5,0.1l0.4-0.1l0.5-0.1l0.4-0.1l0.5-0.2l0.5,0.2l0.4-0.1l0.5-0.2l0.4,0.1l0.5-0.1l0.4-0.2l0.5-0.1l0.5,0.5l0.4-0.3l0.5-0.2l0.4,0.3l0.5-0.3l0.4,0.5l0.5-0.6l0.5,0.4l0.4-0.3l0.5,0l0.4-0.1l0.5-0.2l0.5,0.5l0.4-0.2l0.5-0.1l0.5-0.2l0.4,0l0.5-0.4l0.5,0.1l0.4,0l0.5-0.4l0.5,0.2l0.4-0.2l0.5-0.7l0.5-0.1l0.4,0.2l0.5-0.9l0.5,0.2l0.4,0.2l0.5-0.9l0.5,0.8l0.4-0.5l0.5-0.2l0.5,0.2l0.4-0.4l0.5,0.3l0.5-0.4l0.4,0.9l0.5-1l0.5,0.2l0.4-0.8l0.4-0.3l0.4-0.8l0.4-1.3l0.4,0l0.5,0.8l0.4,2.6l0.4,0.5l0.5-3.2l0.4-2.9l0.5-5.4l0.4-4.1l0.5-2.7l0.4-1.7l0.5-0.9l0.4-3.4l0.5-3.2l0.5-3.4l0.4-3.8l0.5-4.6l0.4,3.6l0.5,2.9l0.4,3.2l0.5,1.3l0.4,2.9l0.5,3.5l0.4,1.7l0.5,1.5l0.4,2.4l0.5-0.4l0.4,2.3l0.5,1.6l0.4-1l0.5,3l0.5,0.2l0.4,1.2l0.4-5.9l0.4-5.4l0.4-8.4l0.5-8.7l0.4-8.3l0.4,13.8l0.4,10l0.4,9.4l0.4,9.3l0.4,7.3l0.5-3l0.5-2.3l0.4-4.6l0.5-4.5l0.4-5.1l0.5-4.2l0.4-7.7l0.5-5.8l0.4,8.6l0.3,8l0.4,7l0.4,5.4l0.5-2.5l0.4-4.8l0.4-3.9l0.5-4.3l0.4-4.7l0.4-5.8l0.4,5.4l0.5,3.2l0.4,4.4l0.4,3.7l0.5,3.3l0.4,2.9l0.4-2.2l0.5-4.1l0.4-4.5l0.4-2.8l0.5-5.5l0.4-4.7l0.5,5.4l0.4,2.6l0.5,4.1l0.4,1.7l0.5,2.5l0.5,3.3l0.4,1.6l0.5,3.2l0.4,0.7l0.4-0.2l0.4-2.6l0.5-2.9l0.4-2.5l0.4-2.1l0.4-3.2l0.4-3.9l0.4-3.4l0.4,0.3l0.5-2.2l0.4-0.6l0.4-2.1l0.5-2.5l0.4-3l0.4-3.5l0.5-3.1l0.4,6.8l0.5,8l0.4,4.3l0.5,5.9l0.4,5.3l0.5,3.3l0.4,3.7l0.5,3.4l0.4-3.5l0.5-3.5l0.4-6.3l0.4-6.1l0.4-6.4l0.5-6.8l0.4,6.6l0.4,5l0.4,5.3l0.4,6.7l0.5,2.9l0.4-2.6l0.4-3.5l0.5-3.3l0.4-4.6l0.5-3.2l0.4-6.6l0.5-4.2l0.4,3.4l0.4,7l0.5,4.3l0.4,5.8l0.4,2.3l0.4,5l0.5-3.7l0.4-2.4l0.4-5l0.5-1.7l0.4-4.7l0.4-5.9l0.4,0l0.3,1.8l0.4-0.5l0.4-0.2l0.4-1.6l0.4-2.2l0.4-1l0.4-1.3l0.5,6.5l0.5,3.5l0.4,4.7l0.5,4.3l0.4,2.6l0.5,3.1l0.5,1.3l0.4,3.5l0.5,2.2l0.4-2.6l0.4-2l0.4-3.3l0.4-1.9l0.4-1.9l0.4-7.2l0.4-3.2l0.4,4.6l0.4,2.4l0.5,3.1l0.4,0.8l0.4,3.9l0.4,1.4l0.4,0.9l0.4,0.6l0.4-0.7l0.4-1.1l0.4,0.5l0.5,1l0.4-0.3l0.5,0.8l0.5,1l0.4,1.5l0.5,2.8l0.4,1.5l0.5,1.6l0.5,0.8l0.4,0.8l0.5,0.2l0.4-0.1l0.5,0.1l0.4,1.4l0.4-0.2l0.4,0.9l0.5,0l0.4,0.5l0.4,0.4l0.4,0.6l0.4,0.3l0.5,0l2.5-0.4l2.5,0.1l2.5,0.2l2.6-0.2l2.5,0.3l2.5-0.3l2.5,0.2l2.5,0.1l2.6-0.1l2.5,0.1l2.5-0.2l2.5,0.1l2.5,0l2.6-0.1l2.5,0l2.5,0l2.5,0l2.5-0.1l2.6-0.1l2.5,0.1l2.5,0.1l2.5-0.1l2.5-0.1l2.6,0.3l2.5,0l2.5-0.1l2.5,0l2.5,0l2.6,0l2.5,0l2.6,0l2.5,0.1l2.6-0.1l2.6-0.2l2.6,0.1l2.6-0.1l2.6,0.1l2.6,0.1l2.6,0.1l2.6-0.1l2.6,0.1l2.5-0.3l2.6,0.2l2.6,0l2.6,0.2l2.6-0.2l2.6,0.2l2.6-0.2l2.6,0.1l2.6,0l2.5,0.1l2.6-0.1l2.6-0.1l2.6,0.2l2.6-0.2l2.6,0l2.6,0.1l2.6,0.1l2.6,0l2.5-0.2l2.6,0l2.6,0.1l2.6-0.1l2.6,0.2l2.6,0l2.6,0l2.6-0.3l2.6,0.1l2.5,0l2.6,0.1l2.6,0l2.6,0l2.6,0.2l2.6-0.1l2.6,0.2l2.6-0.4l2.6,0.4l2.5-0.1l2.6-0.4l2.6,0.3l2.6,0.2l2.6-0.2" stroke="#f81414"/>
</g>
<text x="1369.7" y="149.0" font-size="16" text-anchor="middle" >0</text>
<text x="1416.3" y="149.0" font-size="16" text-anchor="middle" >1</text>
<text x="1467.6" y="149.0" font-size="16" text-anchor="middle" >2</text>
<text x="1522.7" y="149.0" font-size="16" text-anchor="middle" >3</text>
<text x="1573.4" y="149.0" font-size="16" text-anchor="middle" >4</text>
<text x="1627.3" y="149.0" font-size="16" text-anchor="middle" >5</text>
<text x="1676.6" y="149.0" font-size="16" text-anchor="middle" >6</text>
<text x="1728.0" y="149.0" font-size="16" text-anchor="middle" >7</text>
<text x="1779.2" y="149.0" font-size="16" text-anchor="middle" >8</text>
<text x="1831.6" y="149.0" font-size="16" text-anchor="middle" >9</text>
<text x="1882.8" y="149.0" font-size="16" text-anchor="middle" >10</text>
<text x="1363.7" y="37.7" font-size="16" text-anchor="end" >5</text>
<text x="1363.7" y="87.5" font-size="16" text-anchor="end" >2.5</text>
<text x="1363.7" y="137.4" font-size="16" text-anchor="end" >0</text>
<text x="1365.7" y="29.1" font-size="16">× <tspan x="1379.7" y="27.4">10</tspan><tspan x="1395.8" y="16.9" font-size="11">5</tspan></text>
<text transform="translate(1334.0,83.1) rotate(-90)" font-size="16.5" text-anchor="middle">Amplitude</text>
<text x="1623.5" y="166.9" font-size="16.8" text-anchor="middle" >Range (m)</text>
<rect x="1779.3" y="37.2" width="101.2" height="40.3" fill="#fff" stroke="#666" stroke-width="1.3"/>
<path d="M1784.3,46.8 H1815.5" stroke="#10f810" stroke-width="1.9"/>
<path d="M1784.3,65.2 H1815.5" stroke="#f81414" stroke-width="1.9"/>
<text x="1818.9" y="51.5" font-size="13" text-anchor="start" >Reference</text>
<text x="1818.9" y="69.3" font-size="13">f<tspan font-size="10" dy="4.5">0</tspan><tspan dy="-4.5">=10GHz</tspan></text></g>
<g><clipPath id="c8"><rect x="1366.0" y="199.2" width="519.8" height="100.5"/></clipPath>
<path d="M1418.8,199.2 V298.2 M1470.6,199.2 V298.2 M1522.3,199.2 V298.2 M1574.1,199.2 V298.2 M1625.9,199.2 V298.2 M1677.7,199.2 V298.2 M1729.5,199.2 V298.2 M1781.2,199.2 V298.2 M1833.0,199.2 V298.2 M1367.0,248.7 H1884.8" stroke="#6c6c6c" stroke-width="1.25" stroke-dasharray="2.0 1.85" fill="none"/>
<rect x="1367.0" y="199.2" width="517.8" height="99.0" fill="none" stroke="#707070" stroke-width="1.15"/>
<path d="M1418.8,199.2v5M1418.8,298.2v-5M1470.6,199.2v5M1470.6,298.2v-5M1522.3,199.2v5M1522.3,298.2v-5M1574.1,199.2v5M1574.1,298.2v-5M1625.9,199.2v5M1625.9,298.2v-5M1677.7,199.2v5M1677.7,298.2v-5M1729.5,199.2v5M1729.5,298.2v-5M1781.2,199.2v5M1781.2,298.2v-5M1833.0,199.2v5M1833.0,298.2v-5M1367.0,248.7h5M1884.8,248.7h-5" stroke="#555" stroke-width="1" fill="none"/>
<g clip-path="url(#c8)" fill="none" stroke-width="2.25" stroke-linejoin="round">
<path d="M1589.7,298.2 L1589.7,297.6 L1625.9,297.4 L1660.1,297.1 L1677.7,296.6 L1689.6,295.8 L1698.4,294.6 L1703.6,293.4 L1708.7,291.5 L1711.3,288.3 L1712.1,288.3 L1712.4,298.2 Z" fill="#10f810" stroke="none"/>
<path d="M1367,298.2l2.6,0l2.6-0.1l2.6,0.1l2.6,0l2.5,0l2.6,0l2.6,0l2.6-0.1l2.6,0.1l2.6,0l2.6,0l2.6,0l2.6,0l2.5-0.2l2.6,0.2l2.6,0l2.6-0.3l2.6,0.1l2.6,0.1l2.6,0l2.6,0.1l2.6,0l2.5,0l2.6-0.1l2.6,0.1l2.6,0l2.6,0l2.6,0l2.6,0l2.6-0.3l2.6,0.1l2.5,0.2l2.6-0.1l2.6-0.1l2.6,0l2.6,0.1l2.6,0.1l2.6-0.2l2.6,0.1l2.6-0.1l2.5,0.1l2.6,0.1l2.6-0.3l2.6,0.3l2.6-0.2l2.6,0.1l2.6,0.1l2.6,0l2.6,0l2.6,0l2.5-0.1l2.6,0l2.6-0.2l2.6,0.2l2.6-0.1l2.6,0.2l2.6,0l2.6-0.2l2.6,0l2.5,0l2.6,0.2l2.6,0l2.6-0.3l2.6,0.3l2.6,0l2.6-0.3l2.6,0.2l2.6,0.1l2.5-0.2l2.6,0.1l2.6-0.2l2.6,0.2l2.6,0.1l2.6-0.4l2.6,0.1l2.6,0.2l2.6,0l2.5,0.1l2.6-0.1l2.6,0.1l2.6-0.4l2.6,0l2.6,0.1l2.6,0l2.6-0.1l2.6,0l2.5-0.1l2.5,0l2.5,0l2.5,0l2.5,0.2l2.5-0.2l2.6,0.3l2.5-0.2l2.5,0l2.5-0.1l2.5,0.1l2.5-0.1l2.5,0.2l2.6-0.1l2.5,0l2.5-0.2l2.5,0l2.5,0.1l2.5,0l2.6,0l2.5,0l2.5-0.1l2.5-0.1l2.5,0.1l2.5,0.1l2.5,0l2.6-0.2l2.5,0.2l2.5-0.1l2.5,0.3l2.5-0.5l2.5,0.1l2.5,0l2.6-0.1l2.5-0.1l0.4,0.1l0.5,0l0.5,0l0.4,0.3l0.5,0.1l0.4-0.7l0.5,0.3l0.4-0.5l0.5,0l0.5,0.3l0.4,0l0.5-0.1l0.4-0.6l0.5,0.4l0.5,0l0.4-0.4l0.5,0.4l0.4-0.1l0.5,0l0.4-0.2l0.5,0.3l0.5-0.2l0.4-0.3l0.5,0.3l0.4,0l0.5-0.3l0.5,0.3l0.4-0.2l0.5-0.4l0.5,0.2l0.4-0.6l0.5,0.5l0.5,0.3l0.4-0.7l0.5-0.1l0.4-0.3l0.5,0.6l0.5-0.6l0.4-0.5l0.5,0.1l0.5-0.4l0.4,0.4l0.5-0.5l0.5,0l0.4-0.7l0.5,0.8l0.5-1l0.4,0.3l0.5-0.1l0.5,0.2l0.4,0.1l0.5,0.1l0.5-0.8l0.4,0.5l0.5-0.9l0.5,0.4l0.4-0.2l0.5-0.4l0.4,0.4l0.5-0.7l0.5,0.9l0.4-0.9l0.5-1l0.4,0.1l0.5-1.2l0.4,0.4l0.5,0.1l0.5-1.5l0.4,0.4l0.5-0.1l0.4-0.2l0.5,0.3l0.4-0.5l0.5-1.5l0.4-0.3l0.4-1.7l0.4-1.1l0.4-2.5l0.5-2.4l0.4-2.2l0.4-1.7l0.5-1l0.4-3.2l0.5-2.9l0.5-2.5l0.4-2.7l0.4-2.1l0.4-2.1l0.4-3.4l0.3-4.9l0.4-2.9l0.4,5.5l0.4,6l0.4,2.5l0.4,2.8l0.3,6.9l0.4,6.4l0.4-4.3l0.4-2.7l0.5-6.4l0.4,2.9l0.5,7.3l0.4,2.8l0.5,1.4l0.4-2.8l0.5-3.2l0.5-1.8l0.4-2.1l0.5-4.8l0.5,5.5l0.4,7.7l0.5,7l0.5,3.6l0.4,3.8l0.4-3.9l0.5-5.2l0.4-5.2l0.4-5.5l0.4-5.3l0.4-8.3l0.4,8.1l0.5,9.1l0.4,5.4l0.5,5.9l0.4,6.1l0.4-3.2l0.5-3.5l0.4-3.3l0.5-7.1l0.4-3.3l0.5-5.3l0.4-7.3l0.4,5.7l0.4,7.5l0.4,4.5l0.4,4.8l0.4,4l0.4,4.4l0.4-2.6l0.4-3l0.5-5.2l0.4-3.5l0.4-6.1l0.4-6.9l0.4-4.1l0.4,7.2l0.5,4.7l0.4,4.6l0.4,6.5l0.4,1.5l0.4,4.3l0.4-2.7l0.5-3.1l0.4-2.3l0.4-4.6l0.5-3l0.4-2.7l0.5-5.8l0.4-5.1l0.4,7.8l0.4,6.4l0.4,9.5l0.5,3.8l0.4-2.6l0.4-4.6l0.4-4.9l0.4-5.5l0.4-1.9l0.4-7.4l0.5,3.7l0.4,6.9l0.4,2.7l0.4,4.1l0.4,2.6l0.5,4l0.4,3.2l0.4-2.1l0.4-3.9l0.5-3.1l0.4-3.8l0.4-6.1l0.5-2.3l0.4-6.5l0.4,4.9l0.4,8.3l0.4,2.7l0.4,4.7l0.4,4.2l0.4,2.5l0.4-1.8l0.5-4.1l0.4-1.8l0.4-3.7l0.4-5.3l0.4-5.5l0.4-3.9l0.5,6l0.4,6.5l0.5,3.9l0.5,5.4l0.4,3.9l0.4-2.9l0.5-2.8l0.4-2.9l0.5-3.1l0.4-4.7l0.5-3.9l0.4-5.6l0.4,5l0.5,3.3l0.4,5.4l0.4,2.4l0.4,5.2l0.4,1.8l0.5,1.7l0.4-2.6l0.4-0.8l0.4-5l0.5-4.2l0.4-3.8l0.4-3.8l0.4-6.6l0.4,3.5l0.4,6.9l0.4,3.1l0.4,4.1l0.4,4.9l0.4,2l0.4-2.9l0.4-2.1l0.4-5.1l0.4-4.1l0.4-4.9l0.4-4.9l0.4,4.7l0.4,3.4l0.4,4.5l0.5,1.3l0.4,3.5l0.4,2.8l0.4,2.1l0.5-4.1l0.4-4.5l0.5-5l0.4-7.1l0.4,2.9l0.4,3.8l0.5,5.1l0.4,4.4l0.4-0.6l0.5,5.5l0.4,2.5l0.4-3.6l0.5-6.6l0.4-5.8l0.5-8l0.4,5.2l0.3,4.4l0.4,4.3l0.4,3.9l0.4,5.1l0.4,1.1l0.5,2.7l0.5,1.4l0.4,2.4l0.5,0.3l0.5,1.3l0.4,0.4l0.5,0.8l0.4,1l0.4,0.3l0.5,1.6l0.4,0.8l0.5,0l2,0.1l2.1,0.4l2.1,0.3l2.1,0.1l2.5-0.2l2.6,0l2.6,0.3l2.5-0.1l2.6,0l2.6-0.1l2.6-0.1l2.5,0.1l2.6,0.2l2.6-0.1l2.6,0.2l2.5-0.1l2.6,0l2.6,0.1l2.5-0.1l2.6-0.1l2.6,0.2l2.6-0.1l2.5,0.1l2.6,0l2.6-0.1l2.5,0.1l2.6,0l2.6-0.1l2.6,0.1l2.5-0.1l2.6,0.1l2.6-0.1l2.6,0.1l2.5-0.1l2.6,0" stroke="#10f810"/>
<path d="M1367,297.8l2.6-0.2l2.5,0l2.6,0.2l2.6,0.1l2.5-0.1l2.6-0.3l2.6,0l2.5,0.3l2.6,0.1l2.6,0.1l2.5-0.1l2.6-0.2l2.6,0.2l2.5-0.1l2.6-0.1l2.6,0.3l2.5-0.1l2.6-0.1l2.6,0.1l2.5-0.1l2.6,0l2.6-0.1l2.6,0l2.5,0.1l2.6-0.1l2.6,0.1l2.5-0.1l2.6,0.1l2.6,0.1l2.5,0l2.6,0l2.6-0.1l2.5-0.1l2.6,0.1l2.6,0.2l2.5-0.2l2.6,0.3l2.6-0.3l2.5,0.1l2.6-0.1l2.6-0.1l2.5,0.3l2.6-0.1l2.6-0.3l2.5,0.3l2.6-0.3l2.6,0.2l2.5,0.1l0.5,0.2l0.5,0l0.4-0.3l0.5-0.2l0.5,0.3l0.4,0l0.5-0.3l0.4,0.3l0.5,0l0.5,0l0.4-0.2l0.5,0l0.5,0.3l0.4-0.8l0.5,0.6l0.5-0.4l0.4,0.1l0.5,0l0.4,0.3l0.5-0.2l0.5,0l0.4,0.1l0.5-0.6l0.5,0.5l0.4,0.1l0.5-0.8l0.5,0.6l0.4-0.6l0.5,0.6l0.4-0.7l0.5,0.6l0.5-0.1l0.4-0.4l0.5,0.4l0.5-0.5l0.4-0.2l0.5,0.3l0.5,0l0.4-0.1l0.5-0.1l0.4,0l0.5,0l0.5,0l0.4,0.1l0.5-0.3l0.5-0.1l0.4,0.2l0.5-0.5l0.5,0.1l0.4,0l0.5,0.4l0.4,0l0.5-0.2l0.5,0.1l0.4-0.3l0.5-0.4l0.5,0.1l0.4,0.1l0.5,0.6l0.5-0.5l0.4-0.1l0.5-0.1l0.4,0.2l0.5-0.2l0.5,0.2l0.4-0.2l0.5,0l0.5,0.1l0.4,0.3l0.5-0.5l0.4,0.5l0.5-0.5l0.4-0.3l0.5,0.2l0.4,0.2l0.5-0.1l0.5,0l0.4-0.7l0.5,0.1l0.4-0.4l0.5-0.2l0.4,0.3l0.5,0l0.4-0.2l0.5-0.4l0.5,0.2l0.4-0.7l0.5-0.2l0.4,1l0.5-0.6l0.4-0.1l0.5-0.7l0.4,0.5l0.5-0.5l0.4,0.3l0.5-0.5l0.5,0.3l0.4,0l0.5-0.4l0.4,0.3l0.5-0.6l0.4,0.1l0.5-0.2l0.4-0.2l0.5-0.7l0.5-1l0.4,0.3l0.5-2.6l0.4,0.8l0.5-0.7l0.4-0.6l0.5-0.8l0.5,0l0.4-1l0.5-0.7l0.4-0.4l0.5,0.5l0.4-0.7l0.5-1.1l0.5-1.2l0.4-1.8l0.5-1.6l0.4-0.8l0.5-2.2l0.5-2l0.4,0.5l0.4-2.2l0.5,0l0.4-1.7l0.4-0.4l0.4-3.6l0.4,3l0.5,3.2l0.4,1.8l0.4,0.9l0.5,1.8l0.4,1.8l0.4,1.7l0.5,1.7l0.4,0.1l0.5,1.5l0.4,2.3l0.5,1.3l0.4,0.8l0.3-2.6l0.4-2.3l0.3-4.5l0.4-5l0.5-7l0.4-6.5l0.4-8.3l0.4-8l0.4,5.9l0.5,7l0.4,4.4l0.5,6.6l0.4,2.6l0.5,5.3l0.4,1.4l0.5-2.8l0.4-3.2l0.4-2.8l0.5-0.5l0.4-5.5l0.5-3.7l0.4-5.3l0.5,6.7l0.4,4.8l0.4,2.9l0.5,4.7l0.4,3.7l0.5,2.5l0.4,3.1l0.4-4.1l0.5-3.9l0.4-5.2l0.4-3.8l0.4-8.2l0.4,6.7l0.5,6.5l0.4,7.1l0.5,4.5l0.4,5l0.5,4.5l0.4,3.5l0.4-5.3l0.4-6.9l0.4-8.9l0.4-8l0.3,3.6l0.4,4.6l0.4,1.5l0.4,5.3l0.4,2.3l0.4,2.3l0.4-2.7l0.5-3.3l0.4-2.8l0.5-3.5l0.4-3.9l0.4-4.2l0.5-6.7l0.5,7.3l0.4,6.3l0.5,7.6l0.5,3.8l0.4,3.6l0.5-3.1l0.4-4l0.4-4.5l0.4-4.6l0.5-5.3l0.4-7.2l0.5,4.8l0.4,7l0.4,6l0.5,2.9l0.4,5.1l0.5,2.6l0.4,3.7l0.4-3.5l0.4-1.7l0.4-4.9l0.4-5.1l0.5-3.2l0.4-5.1l0.4-5.4l0.4,9l0.5,4.9l0.4,6.2l0.5,4l0.4-3.3l0.5-1.5l0.4-4.6l0.5-2.1l0.4-3.6l0.5-5.8l0.5-4.9l0.4-4.8l0.4,5.2l0.4,5.5l0.4,3.8l0.5,2.9l0.4,3.8l0.4-3.4l0.4-3.5l0.4-5.4l0.4-5l0.4-5.9l0.5,8.3l0.4,7.5l0.4,5.6l0.5,5.9l0.4,4.6l0.4,4.7l0.5-2.3l0.4-2.3l0.5-3.6l0.4-2.9l0.5-5.2l0.5-3.3l0.4-6.6l0.5-5.1l0.4,4.1l0.4,6.9l0.4,5.6l0.4,2.5l0.4,3.7l0.4-4.5l0.5-0.9l0.4-5.4l0.4-1.9l0.4-6.6l0.4,5l0.5,2.8l0.4,3.5l0.5,3.8l0.4,1.9l0.5,3l0.4,2l0.4-2.6l0.5-0.9l0.4-4.9l0.4-4.6l0.5-3.4l0.4-4.1l0.4,4.5l0.5,3.7l0.4,6l0.4,0.9l0.5,3.5l0.4,2.3l0.4-2.1l0.4-0.7l0.5-4.3l0.4-2.4l0.4-3.9l0.5-3.1l0.4,2.8l0.5,2.2l0.4,2.2l0.5,1.1l0.4,1.4l0.4,0.7l0.5,1.3l0.4,0.7l0.4,0.5l0.5,0.9l0.4,1.7l0.4,0l0.5,1l0.4-0.2l0.5,0.5l0.4,2.7l0.4,1.3l0.5,0.5l0.4,0.9l0.5,1.2l0.4,0.7l0.4,1.2l0.5,0.3l0.4,0.4l0.5,0.3l0.4-0.4l0.4,0l0.5,0.4l0.4,0.7l0.5,0l0.4,0.6l0.5,0.7l0.4-0.1l0.5,0.2l0.4,0.6l0.4,0l0.5,0l0.4,0.3l0.5-0.2l0.5-0.1l0.4,0.3l0.5,0l0.4-0.3l0.5,0.2l0.4,0.2l0.5,0l0.5-0.5l0.4,0.5l0.5,0l0.4,0.4l0.5-0.2l0.4,0.2l0.5-0.4l0.5,0.3l0.4,0l0.5,0.2l0.4,0.2l0.5-0.3l0.4,0.3l0.5,0.1l0.5,0.2l0.4-0.2l0.5,0.1l0.4,0.2l0.5-0.1l0.5,0l0.4,0.1l2.6,0l2.6,0l2.6-0.1l2.5,0l2.6-0.1l2.6,0l2.6,0l2.6,0.2l2.6,0l2.5-0.2l2.6,0.2l2.6,0l2.6-0.2l2.6,0.3l2.6-0.1l2.5-0.1l2.6,0l2.6,0.1l2.6,0.1l2.6-0.1l2.6-0.1l2.5,0l2.6,0l2.6,0l2.6-0.2l2.6,0.3l2.6,0l2.5-0.1l2.6,0.1l2.6-0.3l2.6,0.1l2.6,0.3l2.6-0.3l2.5,0l2.6,0.2l2.6,0.1l2.6-0.3l2.6,0l2.6,0l2.5,0.2l2.6-0.1l2.6,0l2.6,0.1l2.6,0.2l2.6-0.3l2.5,0.3l2.6-0.2l2.6,0l2.6-0.1l2.6,0.1l2.6-0.2l2.5,0l2.6,0.2l2.6-0.2l2.6,0l2.6,0.3l2.6-0.1l2.5,0l2.6-0.1l2.6,0l2.6,0l2.6,0l2.6,0.1l2.5-0.2l2.6-0.1l2.6,0.2l2.6,0l2.6-0.1l2.6,0.3l2.5-0.3l2.6,0.2l2.6-0.1l2.6,0.1l2.6-0.2l2.6,0l2.5,0.1l2.6-0.1l2.6,0.2l2.6-0.1l2.6,0.1l2.6,0.1l2.5-0.1l2.6-0.1l2.6,0l2.6-0.1l2.6,0l2.6,0.2l2.5,0.1l2.6,0l2.6-0.1" stroke="#101010"/>
</g>
<text x="1369.7" y="316.6" font-size="16" text-anchor="middle" >0</text>
<text x="1416.3" y="316.6" font-size="16" text-anchor="middle" >1</text>
<text x="1467.6" y="316.6" font-size="16" text-anchor="middle" >2</text>
<text x="1522.7" y="316.6" font-size="16" text-anchor="middle" >3</text>
<text x="1573.4" y="316.6" font-size="16" text-anchor="middle" >4</text>
<text x="1627.3" y="316.6" font-size="16" text-anchor="middle" >5</text>
<text x="1676.6" y="316.6" font-size="16" text-anchor="middle" >6</text>
<text x="1728.0" y="316.6" font-size="16" text-anchor="middle" >7</text>
<text x="1779.2" y="316.6" font-size="16" text-anchor="middle" >8</text>
<text x="1831.6" y="316.6" font-size="16" text-anchor="middle" >9</text>
<text x="1882.8" y="316.6" font-size="16" text-anchor="middle" >10</text>
<text x="1363.7" y="204.9" font-size="16" text-anchor="end" >5</text>
<text x="1363.7" y="254.4" font-size="16" text-anchor="end" >2.5</text>
<text x="1363.7" y="303.9" font-size="16" text-anchor="end" >0</text>
<text x="1365.7" y="196.3" font-size="16">× <tspan x="1379.7" y="194.6">10</tspan><tspan x="1395.8" y="184.1" font-size="11">5</tspan></text>
<text transform="translate(1334.0,249.5) rotate(-90)" font-size="16.5" text-anchor="middle">Amplitude</text>
<text x="1623.5" y="333.9" font-size="16.8" text-anchor="middle" >Range (m)</text>
<rect x="1779.3" y="204.4" width="101.2" height="40.3" fill="#fff" stroke="#666" stroke-width="1.3"/>
<path d="M1784.3,214.0 H1815.5" stroke="#10f810" stroke-width="1.9"/>
<path d="M1784.3,232.4 H1815.5" stroke="#101010" stroke-width="1.9"/>
<text x="1818.9" y="218.7" font-size="13" text-anchor="start" >Reference</text>
<text x="1818.9" y="236.5" font-size="13">f<tspan font-size="10" dy="4.5">0</tspan><tspan dy="-4.5">=15GHz</tspan></text></g>
<g><clipPath id="c9"><rect x="1366.0" y="365.0" width="519.8" height="101.5"/></clipPath>
<path d="M1418.8,365.0 V465.0 M1470.6,365.0 V465.0 M1522.3,365.0 V465.0 M1574.1,365.0 V465.0 M1625.9,365.0 V465.0 M1677.7,365.0 V465.0 M1729.5,365.0 V465.0 M1781.2,365.0 V465.0 M1833.0,365.0 V465.0 M1367.0,415.0 H1884.8" stroke="#6c6c6c" stroke-width="1.25" stroke-dasharray="2.0 1.85" fill="none"/>
<rect x="1367.0" y="365.0" width="517.8" height="100.0" fill="none" stroke="#707070" stroke-width="1.15"/>
<path d="M1418.8,365.0v5M1418.8,465.0v-5M1470.6,365.0v5M1470.6,465.0v-5M1522.3,365.0v5M1522.3,465.0v-5M1574.1,365.0v5M1574.1,465.0v-5M1625.9,365.0v5M1625.9,465.0v-5M1677.7,365.0v5M1677.7,465.0v-5M1729.5,365.0v5M1729.5,465.0v-5M1781.2,365.0v5M1781.2,465.0v-5M1833.0,365.0v5M1833.0,465.0v-5M1367.0,415.0h5M1884.8,415.0h-5" stroke="#555" stroke-width="1" fill="none"/>
<g clip-path="url(#c9)" fill="none" stroke-width="2.25" stroke-linejoin="round">
<path d="M1589.7,465.0 L1589.7,464.4 L1625.9,464.2 L1660.1,463.9 L1677.7,463.4 L1689.6,462.6 L1698.4,461.4 L1703.6,460.2 L1708.7,458.2 L1711.3,455.0 L1712.1,455.0 L1712.4,465.0 Z" fill="#10f810" stroke="none"/>
<path d="M1367,464.9l2.6-0.1l2.6,0.2l2.6-0.1l2.6,0.1l2.5,0l2.6,0l2.6,0l2.6,0l2.6-0.1l2.6,0.1l2.6,0l2.6,0l2.6,0l2.5-0.2l2.6,0.2l2.6,0l2.6-0.1l2.6,0.1l2.6,0l2.6-0.1l2.6-0.1l2.6,0l2.5,0.2l2.6,0l2.6-0.1l2.6-0.3l2.6,0.4l2.6-0.1l2.6-0.1l2.6,0.2l2.6,0l2.5,0l2.6,0l2.6,0l2.6,0l2.6-0.1l2.6,0l2.6,0l2.6,0.1l2.6,0l2.5,0l2.6-0.1l2.6,0l2.6,0.1l2.6,0l2.6,0l2.6-0.1l2.6-0.1l2.6,0l2.6,0.2l2.5,0l2.6,0l2.6-0.3l2.6,0.2l2.6,0.1l2.6-0.1l2.6,0l2.6,0l2.6,0l2.5,0.1l2.6,0l2.6-0.2l2.6-0.1l2.6,0.3l2.6,0l2.6-0.2l2.6,0.2l2.6,0l2.5,0l2.6-0.2l2.6,0l2.6,0l2.6,0.2l2.6-0.1l2.6,0.1l2.6,0l2.6-0.2l2.5,0.2l2.6-0.3l2.6,0l2.6,0l2.6-0.1l2.6,0.1l2.6-0.3l2.6-0.1l2.6,0.3l2.5,0l2.5,0.1l2.5-0.1l2.5-0.1l2.5-0.1l2.5,0.3l2.6,0l2.5,0l2.5-0.1l2.5,0l2.5-0.1l2.5,0l2.5,0.2l2.6-0.1l2.5-0.2l2.5,0.2l2.5,0l2.5,0.1l2.5-0.4l2.6,0.1l2.5,0.1l2.5-0.2l2.5-0.1l2.5,0l2.5,0.3l2.5-0.1l2.6,0l2.5-0.1l2.5,0.3l2.5-0.2l2.5,0.1l2.5-0.4l2.5,0.2l2.6-0.2l2.5,0.1l0.4-0.4l0.5,0.2l0.5,0.3l0.4,0.2l0.5-0.5l0.4-0.1l0.5,0.2l0.4-0.1l0.5,0.1l0.5-0.5l0.4-0.1l0.5,0.4l0.4,0l0.5-0.4l0.5,0.5l0.4-0.4l0.5-0.2l0.4,0l0.5-0.5l0.4,0.6l0.5-0.4l0.5,0.1l0.4,0.1l0.5-0.3l0.4,0.1l0.5,0l0.5,0.2l0.4,0.1l0.5-0.7l0.5,0l0.4,0.2l0.5,0.2l0.5-0.5l0.4,0.5l0.5-0.4l0.4-0.2l0.5,0l0.5,0.3l0.4-1.4l0.5,1l0.5-1.2l0.4-0.4l0.5,0.3l0.5,0l0.4,0.5l0.5-0.5l0.5,0.5l0.4-0.8l0.5-0.3l0.5,0.7l0.4-0.6l0.5,0.1l0.5-1l0.4,0.5l0.5-0.2l0.5,0.2l0.4-0.1l0.5,0l0.4,0.3l0.5-1.2l0.5,0.3l0.4,0.1l0.5-0.9l0.4-0.8l0.5-0.4l0.4-0.5l0.5-0.1l0.5-0.1l0.4-0.1l0.5,0.2l0.4-1.3l0.5,0.4l0.4-0.1l0.5-0.6l0.4-1.5l0.4-1.9l0.4-0.6l0.4-2.4l0.5-1.9l0.4-2.6l0.4-1.8l0.5-0.8l0.4-1.9l0.5-3.7l0.5-1.9l0.4-4.3l0.4-1.4l0.4-5.5l0.4-2.5l0.3-2.2l0.4-4.1l0.4,6.5l0.4,3.5l0.4,3.5l0.4,3.4l0.3,8.5l0.4,5.3l0.4-4.5l0.4-4.3l0.5-4.4l0.4,3.1l0.5,4.8l0.4,3.6l0.5,2.6l0.4-1.7l0.5-1.9l0.5-4.5l0.4-4.6l0.5-2.2l0.5,6.5l0.4,7.1l0.5,4.9l0.5,5.2l0.4,4.4l0.4-4.9l0.5-3.4l0.4-3.8l0.4-7.5l0.4-6.8l0.4-7.5l0.4,9.2l0.5,7.9l0.4,4.7l0.5,8.9l0.4,4.3l0.4-3.2l0.5-4l0.4-3.6l0.5-6l0.4-3.9l0.5-7.6l0.4-4.7l0.4,5.9l0.4,5.7l0.4,6.8l0.4,4l0.4,4.2l0.4,4l0.4-3l0.4-4l0.5-4.4l0.4-5.1l0.4-3.9l0.4-6.3l0.4-4.9l0.4,5.1l0.5,6.4l0.4,8l0.4,1l0.4,4.9l0.4,3.8l0.4-1.6l0.5-3l0.4-2.6l0.4-2.5l0.5-4.6l0.4-5.8l0.5-3.5l0.4-6l0.4,6.3l0.4,9.7l0.4,5.7l0.5,6.2l0.4-3.7l0.4-3l0.4-4.6l0.4-3.4l0.4-7.1l0.4-5.6l0.5,6.3l0.4,3.6l0.4,3.6l0.4,4.5l0.4,3.2l0.5,3.8l0.4,2.2l0.4-3.7l0.4-1.4l0.5-5.1l0.4-2.4l0.4-5.4l0.5-5.6l0.4-4l0.4,8.9l0.4,2.1l0.4,3.5l0.4,5.1l0.4,5l0.4,3.2l0.4-2.6l0.5-2.9l0.4-3.2l0.4-4.4l0.4-2.3l0.4-7.2l0.4-3.9l0.5,4.6l0.4,6.8l0.5,6.7l0.5,5.9l0.4,1.7l0.4-1.8l0.5-3.8l0.4-2.3l0.5-5.7l0.4-2.4l0.5-5.3l0.4-4.5l0.4,5.4l0.5,3.9l0.4,3.3l0.4,5.1l0.4,1.8l0.4,1.7l0.5,3.8l0.4-2.3l0.4-3.8l0.4-2.2l0.5-4.3l0.4-3.8l0.4-5.2l0.4-6l0.4,6l0.4,4.6l0.4,3.7l0.4,3.6l0.4,4.4l0.4,2.9l0.4-3.1l0.4-2.4l0.4-5.2l0.4-3.7l0.4-6l0.4-3.9l0.4,3.4l0.4,5.9l0.4,3.1l0.5,0.1l0.4,5l0.4,1.3l0.4,3.6l0.5-4l0.4-4l0.5-6.7l0.4-6.1l0.4,5.2l0.4,3.4l0.5,4.1l0.4,2l0.4,3.5l0.5,2.3l0.4,3.4l0.4-5.7l0.5-6.5l0.4-4.5l0.5-7.8l0.4,4.6l0.3,4.6l0.4,6.3l0.4,2.8l0.4,2.6l0.4,3.6l0.5,1.3l0.5,2.7l0.4,1.9l0.5,0.4l0.5,1.7l0.4,0.6l0.5,0.1l0.4,1.2l0.4,0.9l0.5,0.6l0.4,1.4l0.5,0l2,0.3l2.1,0.3l2.1,0.2l2.1,0.2l2.5,0.1l2.6,0l2.6,0l2.5,0.2l2.6-0.1l2.6,0l2.6-0.2l2.5,0.3l2.6-0.3l2.6,0l2.6,0.1l2.5,0l2.6,0.2l2.6-0.4l2.5,0.4l2.6-0.1l2.6-0.1l2.6,0.2l2.5-0.1l2.6,0l2.6,0l2.5-0.1l2.6-0.1l2.6,0.3l2.6,0l2.5-0.2l2.6,0.2l2.6-0.1l2.6-0.2l2.5,0.3l2.6,0" stroke="#10f810"/>
<path d="M1367,464.4l2.5,0l2.6,0.1l2.5,0.2l2.6-0.1l2.5-0.1l2.6,0l2.5,0.1l2.6-0.1l2.5-0.1l2.6,0.2l2.5-0.1l2.6-0.1l2.5,0.3l0.5-0.2l0.5,0l0.4-0.1l0.5,0.2l0.5,0.2l0.4,0l0.5-0.2l0.4,0l0.5,0l0.5,0.3l0.4-0.2l0.5-0.2l0.5,0.1l0.4,0.4l0.5-0.6l0.5,0.1l0.4-0.1l0.5,0.3l0.4-0.8l0.5,0.5l0.5,0.4l0.4-0.5l0.5,0l0.5,0.1l0.4,0.3l0.5-0.7l0.5,0.2l0.4-0.2l0.5,0.3l0.5,0l0.4-0.2l0.5,0.2l0.4,0l0.5-0.1l0.5-0.5l0.4,0.3l0.5-0.1l0.5,0.5l0.4-0.5l0.5-0.2l0.5,0l0.4-0.1l0.5,0.6l0.4,0l0.5-0.5l0.5,0l0.4-0.3l0.5,0.2l0.5,0.2l0.4,0l0.5,0l0.5,0.2l0.4,0l0.5-0.5l0.4,0.2l0.5,0.2l0.5-0.2l0.4-0.3l0.5,0.3l0.5-0.2l0.4,0l0.5-0.1l0.5-0.1l0.4,0.4l0.5-0.1l0.4,0l0.5-0.1l0.5,0.2l0.4-0.1l0.5-0.5l0.5,0.1l0.4,0.1l0.5-0.4l0.5-0.1l0.4-0.5l0.5,0.1l0.5-0.5l0.4-0.2l0.5,0.2l0.5-0.3l0.4-0.5l0.5,0l0.5-0.4l0.4,0.3l0.5-0.4l0.5,0.2l0.4,0l0.5-0.2l0.4,0.1l0.4-0.3l0.5-0.9l0.4,0.3l0.4-1.1l0.4,0l0.5,0.3l0.4-1l0.4,0l0.5-0.2l0.4,0l0.4,0.1l0.4,0.2l0.4,1.2l0.4,0.7l0.4-0.6l0.4-1.5l0.5-0.9l0.4-0.6l0.5-1.3l0.4-2.6l0.5-1.2l0.4-0.4l0.5-1.4l0.4-0.4l0.4-2.5l0.5-1.6l0.4-1.4l0.5-2.6l0.4-1.7l0.3-2.1l0.4-0.7l0.4-2.4l0.4-4.4l0.4-7.7l0.4-7.8l0.4-7.6l0.4,9.8l0.4,11.7l0.4,9.2l0.4,8.2l0.5,5.7l0.4-3.6l0.5-3.7l0.4-5.7l0.5-4.1l0.5-5.7l0.4,6.7l0.4,4.9l0.5,5.9l0.4,3.4l0.4,6.5l0.5,1.8l0.4-2.9l0.4-3.8l0.4-6.8l0.4-2.7l0.4-4.9l0.4-6.8l0.4-6.5l0.5,7.6l0.4,8.3l0.4,4.9l0.5,5.8l0.4,4.1l0.5,5.7l0.4,3.5l0.5-4.2l0.4-5.7l0.5-4.9l0.4-8l0.4-6.1l0.5-7.5l0.4-10.9l0.5,8.6l0.4,4.1l0.4,8.1l0.5,6.1l0.4,2.7l0.4,6.1l0.4-4.5l0.4-4.6l0.5-3.7l0.4-6.5l0.4-6.6l0.4,8.3l0.5,2.6l0.4,7.5l0.5,4.6l0.4,2.7l0.5,3.8l0.4,3.4l0.4-4l0.5-3.8l0.4-6.6l0.4-4.6l0.5-5.9l0.4-8l0.4,6.4l0.5,6.2l0.4,6.7l0.4,6l0.4,2.7l0.5,4.9l0.4-4.4l0.4-4.6l0.5-4.3l0.4-5.9l0.4-7.3l0.5-5.7l0.4,7.9l0.4,5l0.5,8l0.4,5.6l0.4,3.5l0.5,4.6l0.4-3.7l0.4-5.6l0.4-5.7l0.5-6.5l0.4-6.6l0.4-7.6l0.5,7l0.4,7.3l0.4,6.9l0.5,5.4l0.4,5.6l0.4,4.3l0.4-3.2l0.4-5.2l0.5-3.8l0.4-4.2l0.4-5.7l0.4-6.4l0.4-7l0.4,6.6l0.4,7.5l0.4,5.4l0.4,4.6l0.4,6.1l0.4,4.8l0.4,3.4l0.5-3.9l0.4-6.3l0.4-7.5l0.5-6.7l0.4-6.6l0.4-8.6l0.4,7.8l0.5,8.5l0.4,6.6l0.4,6.6l0.5,5.1l0.4,4.9l0.5-5.8l0.4-7.4l0.5-4.8l0.5-11.6l0.4-8.7l0.4,6.4l0.4,7.5l0.5,5l0.4,6.6l0.4,4.4l0.4,4.5l0.4,3.5l0.4-4.4l0.4-5.4l0.5-5.8l0.4-7.7l0.4-3.9l0.5-11l0.4,7l0.4,8.1l0.5,6.9l0.4,6.1l0.4,3.7l0.5,4.8l0.4-6l0.5-7.5l0.5-6.5l0.4-9.4l0.5-9.8l0.4,6.6l0.4,8.2l0.4,5.7l0.4,7l0.4,4.4l0.4,5.1l0.4,3.7l0.4-3l0.5-3.6l0.4-4.2l0.4-3.8l0.4-4.3l0.4-4.5l0.4-5.4l0.4,2.6l0.4-0.1l0.5,0l0.4,3.6l0.4,0.8l0.4,0.5l0.4,1.4l0.5,1l0.4,1.3l0.4,4.5l0.5,1.3l0.4,1.8l0.5,1.4l0.4,0.3l0.5,1.9l0.4,1.4l0.5-0.1l0.4,1.3l0.5,0.9l0.4,0.3l0.5,1.3l0.4-0.1l0.5,0.6l0.4-0.1l0.5,0.6l0.4-0.2l0.4,0.3l0.5,0.3l0.4-0.3l0.5,0.3l0.4,0.2l0.4,0l0.5,0.1l0.4,0.1l0.4,0l0.5,0l2.6,0l2.6,0.3l2.5-0.4l2.6,0.3l2.6,0.1l2.6-0.2l2.6-0.1l2.6,0.3l2.5-0.2l2.6,0.1l2.6,0.2l2.6-0.1l2.6,0.1l2.6-0.1l2.6-0.1l2.5-0.1l2.6,0.3l2.6-0.3l2.6,0.1l2.6,0l2.6-0.1l2.6,0.2l2.5-0.2l2.6,0l2.6,0l2.6,0.2l2.6-0.1l2.6,0.4l2.5-0.2l2.6,0.1l2.6-0.4l2.6,0.3l2.6,0l2.6-0.1l2.6-0.1l2.5,0.1l2.6,0.1l2.6-0.1l2.6,0l2.6-0.1l2.6,0.1l2.6-0.2l2.5,0.3l2.6-0.3l2.6,0.4l2.6-0.4l2.6,0.1l2.6,0l2.6-0.2l2.5,0.2l2.6,0.2l2.6,0l2.6,0l2.6,0l2.6-0.2l2.5,0.2l2.6-0.2l2.6,0l2.6,0.2l2.6-0.2l2.6,0.2l2.6,0.1l2.5-0.2l2.6,0.1l2.6-0.1l2.6,0l2.6,0.1l2.6,0l2.6,0l2.5-0.1l2.6,0.3l2.6-0.3l2.6,0.2l2.6-0.1l2.6,0.1l2.5-0.2l2.6,0.3l2.6-0.1l2.6-0.2l2.6,0.2l2.6,0.1l2.6-0.1l2.5,0l2.6-0.1l2.6,0.1l2.6,0.1l2.6-0.2l2.6,0.2l2.6-0.1l2.5,0l2.6,0l2.6,0.1l2.6-0.2l2.6,0.2l2.6,0l2.6,0l2.5,0l2.6,0l2.6-0.1l2.6,0.1l2.6-0.2l2.6,0.1l2.5,0.1l2.6,0l2.6,0l2.6,0l2.6,0l2.6,0l2.6,0l2.5-0.1l2.6,0.1l2.6,0l2.6-0.1l2.6,0.1l2.6,0l2.6-0.1l2.5,0.1l2.6,0l2.6,0l2.6-0.3l2.6,0.3l2.6,0l2.5,0l2.6,0l2.6,0l2.6,0l2.6,0l2.6,0l2.6,0l2.5-0.1l2.6-0.3l2.6,0.4l2.6,0" stroke="#1c14f8"/>
</g>
<text x="1369.7" y="481.6" font-size="16" text-anchor="middle" >0</text>
<text x="1416.3" y="481.6" font-size="16" text-anchor="middle" >1</text>
<text x="1467.6" y="481.6" font-size="16" text-anchor="middle" >2</text>
<text x="1522.7" y="481.6" font-size="16" text-anchor="middle" >3</text>
<text x="1573.4" y="481.6" font-size="16" text-anchor="middle" >4</text>
<text x="1627.3" y="481.6" font-size="16" text-anchor="middle" >5</text>
<text x="1676.6" y="481.6" font-size="16" text-anchor="middle" >6</text>
<text x="1728.0" y="481.6" font-size="16" text-anchor="middle" >7</text>
<text x="1779.2" y="481.6" font-size="16" text-anchor="middle" >8</text>
<text x="1831.6" y="481.6" font-size="16" text-anchor="middle" >9</text>
<text x="1882.8" y="481.6" font-size="16" text-anchor="middle" >10</text>
<text x="1363.7" y="370.7" font-size="16" text-anchor="end" >5</text>
<text x="1363.7" y="420.7" font-size="16" text-anchor="end" >2.5</text>
<text x="1363.7" y="470.7" font-size="16" text-anchor="end" >0</text>
<text x="1365.7" y="362.1" font-size="16">× <tspan x="1379.7" y="360.4">10</tspan><tspan x="1395.8" y="349.9" font-size="11">5</tspan></text>
<text transform="translate(1334.0,416.2) rotate(-90)" font-size="16.5" text-anchor="middle">Amplitude</text>
<text x="1623.5" y="499.0" font-size="16.8" text-anchor="middle" >Range (m)</text>
<rect x="1779.3" y="370.2" width="101.2" height="40.3" fill="#fff" stroke="#666" stroke-width="1.3"/>
<path d="M1784.3,379.8 H1815.5" stroke="#10f810" stroke-width="1.9"/>
<path d="M1784.3,398.2 H1815.5" stroke="#1c14f8" stroke-width="1.9"/>
<text x="1818.9" y="384.5" font-size="13" text-anchor="start" >Reference</text>
<text x="1818.9" y="402.3" font-size="13">f<tspan font-size="10" dy="4.5">0</tspan><tspan dy="-4.5">=30GHz</tspan></text></g>
<text x="308.5" y="535.0" font-size="41" text-anchor="middle" >(a)</text>
<text x="968.5" y="535.1" font-size="41" text-anchor="middle" >(b)</text>
<text x="1617.6" y="536.9" font-size="41" text-anchor="middle" >(c)</text>
</svg>
</body></html>
